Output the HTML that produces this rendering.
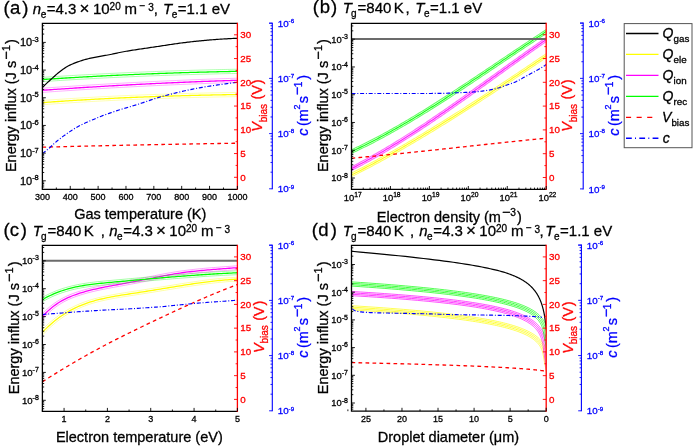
<!DOCTYPE html>
<html><head><meta charset="utf-8"><style>
html,body{margin:0;padding:0;background:#fff;}
svg{display:block;font-family:"Liberation Sans", sans-serif;will-change:transform;}
text{stroke-width:0.3px;}
</style></head><body>
<svg width="700" height="446" viewBox="0 0 700 446">
<rect width="700" height="446" fill="#fff"/>
<defs><clipPath id="cpa"><rect x="42.4" y="23.3" width="195" height="166"/></clipPath><clipPath id="cpc"><rect x="42.4" y="245.4" width="195" height="165.9"/></clipPath><clipPath id="cpb"><rect x="351.5" y="23.3" width="194.7" height="166.1"/></clipPath><clipPath id="cpd"><rect x="351.5" y="245.4" width="194.7" height="165.8"/></clipPath></defs>
<g clip-path="url(#cpa)" fill="none" stroke-linejoin="round">
<path d="M38.4 102.92L42.4 102.62L44.37 102.48L46.33 102.33L48.3 102.19L50.26 102.05L52.23 101.91L54.19 101.77L56.16 101.63L58.13 101.49L60.09 101.36L62.06 101.23L64.02 101.1L65.99 100.97L67.95 100.84L69.92 100.71L71.88 100.59L73.85 100.46L75.82 100.34L77.78 100.22L79.75 100.1L81.71 99.99L83.68 99.87L85.64 99.76L87.61 99.64L89.58 99.53L91.54 99.42L93.51 99.31L95.47 99.2L97.44 99.1L99.4 98.99L101.37 98.89L103.34 98.79L105.3 98.69L107.27 98.59L109.23 98.49L111.2 98.4L113.16 98.3L115.13 98.21L117.09 98.11L119.06 98.02L121.03 97.93L122.99 97.84L124.96 97.76L126.92 97.67L128.89 97.59L130.85 97.5L132.82 97.42L134.79 97.34L136.75 97.26L138.72 97.18L140.68 97.1L142.65 97.03L144.61 96.95L146.58 96.88L148.55 96.8L150.51 96.73L152.48 96.66L154.44 96.59L156.41 96.52L158.37 96.45L160.34 96.39L162.31 96.32L164.27 96.26L166.24 96.19L168.2 96.13L170.17 96.07L172.13 96.01L174.1 95.95L176.06 95.89L178.03 95.84L180 95.78L181.96 95.72L183.93 95.67L185.89 95.62L187.86 95.56L189.82 95.51L191.79 95.46L193.76 95.41L195.72 95.36L197.69 95.31L199.65 95.27L201.62 95.22L203.58 95.18L205.55 95.13L207.52 95.09L209.48 95.04L211.45 95L213.41 94.96L215.38 94.92L217.34 94.88L219.31 94.84L221.27 94.8L223.24 94.77L225.21 94.73L227.17 94.69L229.14 94.66L231.1 94.62L233.07 94.59L235.03 94.56L237 94.52L241 94.46" stroke="#ffff00" stroke-width="1.3" stroke-opacity="1.0"/>
<path d="M38.24 100.83L42.24 100.53L44.21 100.38L46.18 100.24L48.14 100.09L50.11 99.95L52.08 99.81L54.05 99.67L56.01 99.53L57.98 99.4L59.95 99.26L61.92 99.13L63.88 99L65.85 98.87L67.82 98.74L69.79 98.62L71.75 98.49L73.72 98.37L75.69 98.25L77.65 98.13L79.62 98.01L81.59 97.89L83.56 97.77L85.52 97.66L87.49 97.55L89.46 97.43L91.42 97.32L93.39 97.22L95.36 97.11L97.33 97L99.29 96.9L101.26 96.79L103.23 96.69L105.19 96.59L107.16 96.49L109.13 96.39L111.1 96.3L113.06 96.2L115.03 96.11L117 96.02L118.96 95.93L120.93 95.84L122.9 95.75L124.86 95.66L126.83 95.57L128.8 95.49L130.77 95.4L132.73 95.32L134.7 95.24L136.67 95.16L138.63 95.08L140.6 95L142.57 94.93L144.53 94.85L146.5 94.78L148.47 94.7L150.43 94.63L152.4 94.56L154.37 94.49L156.34 94.42L158.3 94.35L160.27 94.29L162.24 94.22L164.2 94.16L166.17 94.1L168.14 94.03L170.1 93.97L172.07 93.91L174.04 93.85L176 93.79L177.97 93.74L179.94 93.68L181.9 93.62L183.87 93.57L185.84 93.52L187.8 93.46L189.77 93.41L191.74 93.36L193.7 93.31L195.67 93.26L197.64 93.21L199.6 93.17L201.57 93.12L203.54 93.08L205.5 93.03L207.47 92.99L209.44 92.94L211.4 92.9L213.37 92.86L215.33 92.82L217.3 92.78L219.27 92.74L221.23 92.7L223.2 92.67L225.17 92.63L227.13 92.59L229.1 92.56L231.07 92.52L233.03 92.49L235 92.46L236.97 92.43L240.97 92.36" stroke="#ffff00" stroke-width="0.9" stroke-opacity="0.35"/>
<path d="M38.56 105.02L42.56 104.72L44.52 104.57L46.49 104.43L48.45 104.28L50.41 104.14L52.38 104L54.34 103.86L56.31 103.72L58.27 103.59L60.23 103.45L62.2 103.32L64.16 103.19L66.13 103.06L68.09 102.93L70.05 102.81L72.02 102.68L73.98 102.56L75.95 102.44L77.91 102.32L79.87 102.2L81.84 102.08L83.8 101.97L85.77 101.85L87.73 101.74L89.69 101.63L91.66 101.52L93.62 101.41L95.59 101.3L97.55 101.2L99.51 101.09L101.48 100.99L103.44 100.89L105.41 100.79L107.37 100.69L109.34 100.59L111.3 100.49L113.26 100.4L115.23 100.3L117.19 100.21L119.16 100.12L121.12 100.03L123.09 99.94L125.05 99.86L127.01 99.77L128.98 99.68L130.94 99.6L132.91 99.52L134.87 99.44L136.84 99.36L138.8 99.28L140.77 99.2L142.73 99.12L144.69 99.05L146.66 98.97L148.62 98.9L150.59 98.83L152.55 98.76L154.52 98.69L156.48 98.62L158.45 98.55L160.41 98.49L162.37 98.42L164.34 98.36L166.3 98.29L168.27 98.23L170.23 98.17L172.2 98.11L174.16 98.05L176.13 97.99L178.09 97.93L180.06 97.88L182.02 97.82L183.98 97.77L185.95 97.71L187.91 97.66L189.88 97.61L191.84 97.56L193.81 97.51L195.77 97.46L197.74 97.41L199.7 97.37L201.67 97.32L203.63 97.27L205.6 97.23L207.56 97.19L209.53 97.14L211.49 97.1L213.46 97.06L215.42 97.02L217.39 96.98L219.35 96.94L221.32 96.9L223.28 96.87L225.24 96.83L227.21 96.79L229.17 96.76L231.14 96.72L233.1 96.69L235.07 96.66L237.03 96.62L241.03 96.56" stroke="#ffff00" stroke-width="0.9" stroke-opacity="0.35"/>
<path d="M38.4 90.59L42.4 90.3L44.37 90.16L46.34 90.02L48.31 89.88L50.28 89.74L52.25 89.61L54.22 89.47L56.19 89.33L58.16 89.2L60.13 89.07L62.1 88.93L64.07 88.8L66.04 88.67L68.01 88.54L69.98 88.41L71.95 88.28L73.92 88.15L75.88 88.02L77.85 87.89L79.82 87.77L81.79 87.64L83.76 87.52L85.73 87.39L87.7 87.27L89.67 87.15L91.64 87.03L93.61 86.91L95.58 86.79L97.55 86.67L99.52 86.55L101.49 86.43L103.46 86.32L105.43 86.2L107.4 86.09L109.37 85.97L111.34 85.86L113.31 85.75L115.28 85.63L117.25 85.52L119.22 85.41L121.19 85.3L123.16 85.19L125.13 85.09L127.1 84.98L129.07 84.87L131.04 84.77L133.01 84.66L134.98 84.56L136.95 84.46L138.92 84.36L140.88 84.25L142.85 84.15L144.82 84.05L146.79 83.96L148.76 83.86L150.73 83.76L152.7 83.66L154.67 83.57L156.64 83.47L158.61 83.38L160.58 83.29L162.55 83.19L164.52 83.1L166.49 83.01L168.46 82.92L170.43 82.83L172.4 82.75L174.37 82.66L176.34 82.57L178.31 82.49L180.28 82.4L182.25 82.32L184.22 82.23L186.19 82.15L188.16 82.07L190.13 81.99L192.1 81.91L194.07 81.83L196.04 81.75L198.01 81.67L199.98 81.6L201.95 81.52L203.92 81.45L205.88 81.37L207.85 81.3L209.82 81.23L211.79 81.16L213.76 81.09L215.73 81.02L217.7 80.95L219.67 80.88L221.64 80.81L223.61 80.74L225.58 80.68L227.55 80.61L229.52 80.55L231.49 80.49L233.46 80.42L235.43 80.36L237.4 80.3L241.4 80.18" stroke="#ff00ff" stroke-width="1.3" stroke-opacity="1.0"/>
<path d="M38.25 88.49L42.25 88.21L44.22 88.07L46.19 87.93L48.16 87.79L50.13 87.65L52.1 87.51L54.07 87.38L56.04 87.24L58.01 87.1L59.99 86.97L61.96 86.84L63.93 86.7L65.9 86.57L67.87 86.44L69.84 86.31L71.81 86.18L73.78 86.05L75.75 85.93L77.72 85.8L79.69 85.67L81.66 85.55L83.63 85.42L85.6 85.3L87.57 85.18L89.54 85.05L91.51 84.93L93.48 84.81L95.45 84.69L97.43 84.57L99.4 84.45L101.37 84.34L103.34 84.22L105.31 84.1L107.28 83.99L109.25 83.88L111.22 83.76L113.19 83.65L115.16 83.54L117.13 83.43L119.1 83.32L121.07 83.21L123.04 83.1L125.01 82.99L126.98 82.88L128.95 82.78L130.92 82.67L132.9 82.57L134.87 82.46L136.84 82.36L138.81 82.26L140.78 82.16L142.75 82.06L144.72 81.96L146.69 81.86L148.66 81.76L150.63 81.66L152.6 81.57L154.57 81.47L156.54 81.38L158.51 81.28L160.48 81.19L162.45 81.1L164.42 81.01L166.39 80.91L168.37 80.83L170.34 80.74L172.31 80.65L174.28 80.56L176.25 80.47L178.22 80.39L180.19 80.3L182.16 80.22L184.13 80.14L186.1 80.05L188.07 79.97L190.04 79.89L192.01 79.81L193.98 79.73L195.95 79.65L197.92 79.58L199.89 79.5L201.87 79.42L203.84 79.35L205.81 79.27L207.78 79.2L209.75 79.13L211.72 79.06L213.69 78.99L215.66 78.92L217.63 78.85L219.6 78.78L221.57 78.71L223.54 78.65L225.51 78.58L227.48 78.51L229.45 78.45L231.42 78.39L233.39 78.32L235.37 78.26L237.34 78.2L241.34 78.08" stroke="#ff00ff" stroke-width="0.9" stroke-opacity="0.35"/>
<path d="M38.55 92.68L42.55 92.4L44.52 92.26L46.49 92.12L48.46 91.98L50.43 91.84L52.39 91.7L54.36 91.57L56.33 91.43L58.3 91.29L60.27 91.16L62.24 91.03L64.21 90.9L66.18 90.76L68.14 90.63L70.11 90.5L72.08 90.37L74.05 90.24L76.02 90.12L77.99 89.99L79.96 89.86L81.93 89.74L83.9 89.61L85.86 89.49L87.83 89.37L89.8 89.25L91.77 89.12L93.74 89L95.71 88.88L97.68 88.76L99.65 88.65L101.62 88.53L103.58 88.41L105.55 88.3L107.52 88.18L109.49 88.07L111.46 87.95L113.43 87.84L115.4 87.73L117.37 87.62L119.33 87.51L121.3 87.4L123.27 87.29L125.24 87.18L127.21 87.08L129.18 86.97L131.15 86.87L133.12 86.76L135.09 86.66L137.05 86.56L139.02 86.45L140.99 86.35L142.96 86.25L144.93 86.15L146.9 86.05L148.87 85.96L150.84 85.86L152.81 85.76L154.77 85.67L156.74 85.57L158.71 85.48L160.68 85.38L162.65 85.29L164.62 85.2L166.59 85.11L168.56 85.02L170.52 84.93L172.49 84.84L174.46 84.76L176.43 84.67L178.4 84.58L180.37 84.5L182.34 84.42L184.31 84.33L186.28 84.25L188.24 84.17L190.21 84.09L192.18 84.01L194.15 83.93L196.12 83.85L198.09 83.77L200.06 83.7L202.03 83.62L203.99 83.55L205.96 83.47L207.93 83.4L209.9 83.33L211.87 83.25L213.84 83.18L215.81 83.11L217.78 83.05L219.75 82.98L221.71 82.91L223.68 82.84L225.65 82.78L227.62 82.71L229.59 82.65L231.56 82.58L233.53 82.52L235.5 82.46L237.46 82.4L241.46 82.28" stroke="#ff00ff" stroke-width="0.9" stroke-opacity="0.35"/>
<path d="M38.4 79.79L42.4 79.52L44.37 79.39L46.34 79.25L48.31 79.12L50.28 78.99L52.25 78.87L54.22 78.74L56.19 78.61L58.16 78.49L60.13 78.36L62.1 78.24L64.07 78.12L66.04 78L68.01 77.88L69.98 77.76L71.95 77.64L73.92 77.53L75.88 77.41L77.85 77.3L79.82 77.18L81.79 77.07L83.76 76.96L85.73 76.85L87.7 76.74L89.67 76.63L91.64 76.53L93.61 76.42L95.58 76.32L97.55 76.21L99.52 76.11L101.49 76.01L103.46 75.91L105.43 75.81L107.4 75.71L109.37 75.62L111.34 75.52L113.31 75.42L115.28 75.33L117.25 75.24L119.22 75.14L121.19 75.05L123.16 74.96L125.13 74.87L127.1 74.79L129.07 74.7L131.04 74.61L133.01 74.53L134.98 74.44L136.95 74.36L138.92 74.28L140.88 74.2L142.85 74.12L144.82 74.04L146.79 73.96L148.76 73.88L150.73 73.81L152.7 73.73L154.67 73.66L156.64 73.58L158.61 73.51L160.58 73.44L162.55 73.37L164.52 73.3L166.49 73.23L168.46 73.16L170.43 73.09L172.4 73.03L174.37 72.96L176.34 72.9L178.31 72.83L180.28 72.77L182.25 72.71L184.22 72.65L186.19 72.59L188.16 72.53L190.13 72.47L192.1 72.41L194.07 72.36L196.04 72.3L198.01 72.25L199.98 72.19L201.95 72.14L203.92 72.09L205.88 72.04L207.85 71.99L209.82 71.94L211.79 71.89L213.76 71.84L215.73 71.79L217.7 71.75L219.67 71.7L221.64 71.66L223.61 71.61L225.58 71.57L227.55 71.53L229.52 71.49L231.49 71.45L233.46 71.41L235.43 71.37L237.4 71.33L241.4 71.25" stroke="#00ff00" stroke-width="1.3" stroke-opacity="1.0"/>
<path d="M38.26 77.69L42.26 77.42L44.23 77.29L46.2 77.16L48.17 77.03L50.14 76.9L52.11 76.77L54.08 76.64L56.05 76.52L58.03 76.39L60 76.27L61.97 76.14L63.94 76.02L65.91 75.9L67.88 75.78L69.85 75.66L71.82 75.55L73.79 75.43L75.76 75.31L77.73 75.2L79.7 75.09L81.68 74.97L83.65 74.86L85.62 74.75L87.59 74.64L89.56 74.54L91.53 74.43L93.5 74.32L95.47 74.22L97.44 74.12L99.41 74.01L101.38 73.91L103.35 73.81L105.33 73.71L107.3 73.62L109.27 73.52L111.24 73.42L113.21 73.33L115.18 73.23L117.15 73.14L119.12 73.05L121.09 72.96L123.06 72.87L125.03 72.78L127 72.69L128.97 72.6L130.95 72.51L132.92 72.43L134.89 72.35L136.86 72.26L138.83 72.18L140.8 72.1L142.77 72.02L144.74 71.94L146.71 71.86L148.68 71.78L150.65 71.71L152.62 71.63L154.59 71.56L156.56 71.48L158.54 71.41L160.51 71.34L162.48 71.27L164.45 71.2L166.42 71.13L168.39 71.06L170.36 70.99L172.33 70.93L174.3 70.86L176.27 70.8L178.24 70.73L180.21 70.67L182.18 70.61L184.15 70.55L186.12 70.49L188.1 70.43L190.07 70.37L192.04 70.31L194.01 70.26L195.98 70.2L197.95 70.15L199.92 70.09L201.89 70.04L203.86 69.99L205.83 69.94L207.8 69.89L209.77 69.84L211.74 69.79L213.71 69.74L215.68 69.69L217.65 69.65L219.62 69.6L221.6 69.56L223.57 69.51L225.54 69.47L227.51 69.43L229.48 69.39L231.45 69.35L233.42 69.31L235.39 69.27L237.36 69.23L241.36 69.15" stroke="#00ff00" stroke-width="0.9" stroke-opacity="0.35"/>
<path d="M38.54 81.88L42.54 81.61L44.51 81.48L46.48 81.35L48.45 81.22L50.42 81.09L52.38 80.96L54.35 80.83L56.32 80.71L58.29 80.58L60.26 80.46L62.23 80.34L64.2 80.21L66.16 80.09L68.13 79.97L70.1 79.86L72.07 79.74L74.04 79.62L76.01 79.51L77.98 79.39L79.94 79.28L81.91 79.17L83.88 79.06L85.85 78.95L87.82 78.84L89.79 78.73L91.76 78.62L93.72 78.52L95.69 78.41L97.66 78.31L99.63 78.21L101.6 78.11L103.57 78.01L105.54 77.91L107.5 77.81L109.47 77.71L111.44 77.62L113.41 77.52L115.38 77.43L117.35 77.33L119.32 77.24L121.28 77.15L123.25 77.06L125.22 76.97L127.19 76.88L129.16 76.8L131.13 76.71L133.1 76.63L135.06 76.54L137.03 76.46L139 76.38L140.97 76.3L142.94 76.22L144.91 76.14L146.88 76.06L148.85 75.98L150.81 75.9L152.78 75.83L154.75 75.75L156.72 75.68L158.69 75.61L160.66 75.54L162.63 75.47L164.6 75.4L166.56 75.33L168.53 75.26L170.5 75.19L172.47 75.13L174.44 75.06L176.41 75L178.38 74.93L180.34 74.87L182.31 74.81L184.28 74.75L186.25 74.69L188.22 74.63L190.19 74.57L192.16 74.51L194.13 74.46L196.1 74.4L198.06 74.35L200.03 74.29L202 74.24L203.97 74.19L205.94 74.14L207.91 74.09L209.88 74.04L211.85 73.99L213.81 73.94L215.78 73.89L217.75 73.85L219.72 73.8L221.69 73.76L223.66 73.71L225.63 73.67L227.6 73.63L229.56 73.59L231.53 73.55L233.5 73.51L235.47 73.47L237.44 73.43L241.44 73.35" stroke="#00ff00" stroke-width="0.9" stroke-opacity="0.35"/>
<path d="M38.4 91.69L42.4 87.6L43.71 86.26L45.02 84.95L46.33 83.68L47.63 82.44L48.94 81.24L50.25 80.05L51.56 78.87L52.87 77.68L54.18 76.49L55.49 75.3L56.8 74.14L58.1 73.02L59.41 71.97L60.72 70.94L62.03 69.95L63.34 69.01L64.65 68.13L65.96 67.32L67.27 66.55L68.57 65.82L69.88 65.14L71.19 64.52L72.5 63.94L73.81 63.41L75.12 62.9L76.43 62.41L77.74 61.93L79.04 61.46L80.35 61.01L81.66 60.58L82.97 60.17L84.28 59.79L85.59 59.42L86.9 59.08L88.21 58.75L89.51 58.45L90.82 58.18L92.13 57.93L93.44 57.69L94.75 57.45L96.06 57.19L97.37 56.91L98.68 56.62L99.98 56.34L101.29 56.08L102.6 55.84L103.91 55.62L105.22 55.42L106.53 55.22L107.84 55L109.14 54.77L110.45 54.52L111.76 54.24L113.07 53.96L114.38 53.66L115.69 53.36L117 53.06L118.31 52.77L119.61 52.5L120.92 52.24L122.23 51.99L123.54 51.74L124.85 51.5L126.16 51.27L127.47 51.04L128.78 50.82L130.08 50.6L131.39 50.39L132.7 50.19L134.01 49.99L135.32 49.8L136.63 49.6L137.94 49.41L139.25 49.21L140.55 49.02L141.86 48.82L143.17 48.63L144.48 48.43L145.79 48.24L147.1 48.05L148.41 47.85L149.72 47.66L151.02 47.46L152.33 47.27L153.64 47.08L154.95 46.88L156.26 46.69L157.57 46.49L158.88 46.3L160.19 46.1L161.49 45.9L162.8 45.7L164.11 45.5L165.42 45.3L166.73 45.09L168.04 44.89L169.35 44.69L170.66 44.49L171.96 44.3L173.27 44.1L174.58 43.91L175.89 43.73L177.2 43.55L178.51 43.37L179.82 43.2L181.12 43.03L182.43 42.86L183.74 42.69L185.05 42.53L186.36 42.36L187.67 42.2L188.98 42.05L190.29 41.89L191.59 41.74L192.9 41.59L194.21 41.45L195.52 41.31L196.83 41.17L198.14 41.04L199.45 40.91L200.76 40.78L202.06 40.65L203.37 40.53L204.68 40.41L205.99 40.29L207.3 40.17L208.61 40.06L209.92 39.95L211.23 39.84L212.53 39.74L213.84 39.64L215.15 39.54L216.46 39.44L217.77 39.35L219.08 39.27L220.39 39.19L221.7 39.1L223 39.02L224.31 38.94L225.62 38.87L226.93 38.79L228.24 38.72L229.55 38.65L230.86 38.59L232.17 38.52L233.47 38.46L234.78 38.41L236.09 38.35L237.4 38.3L241.4 38.14" stroke="#000" stroke-width="1.2"/>
<path d="M42.4 147.2L44.37 147.15L46.34 147.1L48.31 147.05L50.28 146.99L52.25 146.94L54.22 146.89L56.19 146.84L58.16 146.79L60.13 146.74L62.1 146.69L64.07 146.64L66.04 146.59L68.01 146.54L69.98 146.49L71.95 146.44L73.92 146.4L75.88 146.35L77.85 146.3L79.82 146.25L81.79 146.2L83.76 146.16L85.73 146.11L87.7 146.06L89.67 146.02L91.64 145.97L93.61 145.93L95.58 145.88L97.55 145.84L99.52 145.79L101.49 145.75L103.46 145.7L105.43 145.66L107.4 145.62L109.37 145.57L111.34 145.53L113.31 145.49L115.28 145.44L117.25 145.4L119.22 145.36L121.19 145.32L123.16 145.27L125.13 145.23L127.1 145.19L129.07 145.15L131.04 145.11L133.01 145.07L134.98 145.03L136.95 144.99L138.92 144.95L140.88 144.91L142.85 144.87L144.82 144.83L146.79 144.79L148.76 144.75L150.73 144.71L152.7 144.67L154.67 144.64L156.64 144.6L158.61 144.56L160.58 144.52L162.55 144.48L164.52 144.45L166.49 144.41L168.46 144.37L170.43 144.34L172.4 144.3L174.37 144.26L176.34 144.23L178.31 144.19L180.28 144.16L182.25 144.12L184.22 144.09L186.19 144.05L188.16 144.02L190.13 143.98L192.1 143.95L194.07 143.91L196.04 143.88L198.01 143.85L199.98 143.81L201.95 143.78L203.92 143.75L205.88 143.71L207.85 143.68L209.82 143.65L211.79 143.61L213.76 143.58L215.73 143.55L217.7 143.52L219.67 143.48L221.64 143.45L223.61 143.42L225.58 143.39L227.55 143.36L229.52 143.33L231.49 143.3L233.46 143.27L235.43 143.23L237.4 143.2" stroke="#f00" stroke-width="1.3" stroke-dasharray="3.7 3.3"/>
<path d="M42.4 153.6L43.71 152.6L45.02 151.57L46.33 150.51L47.63 149.43L48.94 148.32L50.25 147.19L51.56 146L52.87 144.76L54.18 143.53L55.49 142.34L56.8 141.23L58.1 140.16L59.41 139.12L60.72 138.11L62.03 137.13L63.34 136.16L64.65 135.21L65.96 134.29L67.27 133.38L68.57 132.49L69.88 131.61L71.19 130.74L72.5 129.87L73.81 129.03L75.12 128.21L76.43 127.43L77.74 126.69L79.04 125.99L80.35 125.31L81.66 124.66L82.97 124.03L84.28 123.41L85.59 122.81L86.9 122.22L88.21 121.65L89.51 121.09L90.82 120.55L92.13 120L93.44 119.46L94.75 118.91L96.06 118.35L97.37 117.79L98.68 117.23L99.98 116.68L101.29 116.16L102.6 115.66L103.91 115.18L105.22 114.71L106.53 114.25L107.84 113.8L109.14 113.35L110.45 112.9L111.76 112.44L113.07 111.99L114.38 111.55L115.69 111.1L117 110.67L118.31 110.24L119.61 109.81L120.92 109.4L122.23 109L123.54 108.6L124.85 108.22L126.16 107.84L127.47 107.46L128.78 107.07L130.08 106.69L131.39 106.29L132.7 105.89L134.01 105.5L135.32 105.1L136.63 104.69L137.94 104.29L139.25 103.88L140.55 103.46L141.86 103.03L143.17 102.59L144.48 102.15L145.79 101.7L147.1 101.25L148.41 100.8L149.72 100.35L151.02 99.9L152.33 99.46L153.64 99.03L154.95 98.6L156.26 98.19L157.57 97.79L158.88 97.4L160.19 97.02L161.49 96.65L162.8 96.28L164.11 95.92L165.42 95.56L166.73 95.21L168.04 94.86L169.35 94.52L170.66 94.18L171.96 93.85L173.27 93.52L174.58 93.19L175.89 92.88L177.2 92.56L178.51 92.25L179.82 91.94L181.12 91.64L182.43 91.34L183.74 91.04L185.05 90.75L186.36 90.46L187.67 90.17L188.98 89.89L190.29 89.61L191.59 89.34L192.9 89.08L194.21 88.81L195.52 88.56L196.83 88.31L198.14 88.07L199.45 87.83L200.76 87.6L202.06 87.37L203.37 87.15L204.68 86.93L205.99 86.71L207.3 86.5L208.61 86.3L209.92 86.09L211.23 85.89L212.53 85.69L213.84 85.5L215.15 85.3L216.46 85.11L217.77 84.92L219.08 84.73L220.39 84.54L221.7 84.36L223 84.17L224.31 83.99L225.62 83.81L226.93 83.64L228.24 83.46L229.55 83.29L230.86 83.12L232.17 82.95L233.47 82.78L234.78 82.62L236.09 82.46L237.4 82.3" stroke="#00f" stroke-width="1.15" stroke-dasharray="4 1.8 1 1.8"/>
</g>
<g clip-path="url(#cpb)" fill="none" stroke-linejoin="round">
<path d="M347.5 176.96L351.5 174.94L353.47 173.95L355.43 172.95L357.4 171.94L359.37 170.93L361.33 169.91L363.3 168.89L365.27 167.86L367.23 166.83L369.2 165.79L371.17 164.74L373.13 163.69L375.1 162.63L377.07 161.57L379.03 160.5L381 159.42L382.97 158.34L384.93 157.26L386.9 156.17L388.87 155.07L390.83 153.97L392.8 152.87L394.77 151.76L396.73 150.64L398.7 149.52L400.67 148.4L402.63 147.27L404.6 146.14L406.57 145L408.53 143.85L410.5 142.71L412.47 141.55L414.43 140.4L416.4 139.23L418.37 138.07L420.33 136.9L422.3 135.72L424.27 134.55L426.23 133.36L428.2 132.18L430.17 130.99L432.13 129.79L434.1 128.59L436.07 127.39L438.03 126.19L440 124.98L441.97 123.76L443.93 122.55L445.9 121.33L447.87 120.1L449.83 118.87L451.8 117.64L453.77 116.41L455.73 115.17L457.7 113.93L459.67 112.69L461.63 111.44L463.6 110.19L465.57 108.94L467.53 107.68L469.5 106.42L471.47 105.16L473.43 103.9L475.4 102.63L477.37 101.36L479.33 100.09L481.3 98.81L483.27 97.54L485.23 96.26L487.2 94.98L489.17 93.69L491.13 92.4L493.1 91.11L495.07 89.82L497.03 88.53L499 87.24L500.97 85.94L502.93 84.64L504.9 83.34L506.87 82.03L508.83 80.73L510.8 79.42L512.77 78.11L514.73 76.81L516.7 75.49L518.67 74.18L520.63 72.87L522.6 71.55L524.57 70.23L526.53 68.92L528.5 67.6L530.47 66.28L532.43 64.95L534.4 63.63L536.37 62.31L538.33 60.98L540.3 59.66L542.27 58.33L544.23 57L546.2 55.68L550.2 52.97" stroke="#ffff00" stroke-width="1.2" stroke-opacity="0.9"/>
<path d="M346.78 175.54L350.78 173.51L352.74 172.52L354.71 171.52L356.67 170.52L358.63 169.51L360.6 168.49L362.56 167.47L364.52 166.44L366.49 165.41L368.45 164.37L370.41 163.33L372.38 162.28L374.34 161.22L376.3 160.16L378.27 159.09L380.23 158.02L382.2 156.94L384.16 155.86L386.12 154.77L388.09 153.68L390.05 152.58L392.01 151.48L393.98 150.37L395.94 149.25L397.91 148.13L399.87 147.01L401.84 145.88L403.8 144.75L405.76 143.61L407.73 142.47L409.69 141.32L411.66 140.17L413.62 139.02L415.59 137.86L417.55 136.69L419.51 135.52L421.48 134.35L423.44 133.17L425.41 131.99L427.37 130.81L429.34 129.62L431.3 128.43L433.27 127.23L435.23 126.03L437.2 124.82L439.16 123.61L441.13 122.4L443.09 121.19L445.06 119.97L447.02 118.74L448.99 117.52L450.95 116.29L452.92 115.06L454.88 113.82L456.85 112.58L458.81 111.34L460.78 110.09L462.74 108.84L464.71 107.59L466.67 106.33L468.64 105.08L470.6 103.82L472.57 102.55L474.53 101.29L476.5 100.02L478.46 98.75L480.43 97.47L482.39 96.2L484.36 94.92L486.33 93.64L488.29 92.35L490.26 91.07L492.22 89.78L494.19 88.49L496.15 87.19L498.12 85.9L500.09 84.6L502.05 83.3L504.02 82L505.98 80.7L507.95 79.4L509.91 78.09L511.88 76.78L513.85 75.47L515.81 74.16L517.78 72.85L519.74 71.54L521.71 70.22L523.68 68.9L525.64 67.59L527.61 66.27L529.57 64.95L531.54 63.63L533.51 62.3L535.47 60.98L537.44 59.66L539.41 58.33L541.37 57L543.34 55.68L545.3 54.35L549.3 51.65" stroke="#ffff00" stroke-width="1.1" stroke-opacity="0.6"/>
<path d="M348.22 178.39L352.22 176.37L354.19 175.38L356.16 174.37L358.13 173.37L360.1 172.35L362.07 171.33L364.04 170.31L366.01 169.28L367.98 168.24L369.95 167.2L371.92 166.15L373.89 165.1L375.86 164.04L377.83 162.97L379.8 161.9L381.77 160.83L383.74 159.75L385.71 158.66L387.68 157.57L389.65 156.47L391.62 155.37L393.59 154.26L395.55 153.15L397.52 152.04L399.49 150.91L401.46 149.79L403.43 148.66L405.4 147.52L407.37 146.38L409.34 145.24L411.31 144.09L413.28 142.93L415.25 141.77L417.21 140.61L419.18 139.44L421.15 138.27L423.12 137.1L425.09 135.92L427.06 134.73L429.03 133.55L431 132.36L432.96 131.16L434.93 129.96L436.9 128.76L438.87 127.55L440.84 126.34L442.81 125.12L444.78 123.91L446.74 122.69L448.71 121.46L450.68 120.23L452.65 119L454.62 117.76L456.59 116.53L458.55 115.28L460.52 114.04L462.49 112.79L464.46 111.54L466.43 110.29L468.4 109.03L470.36 107.77L472.33 106.51L474.3 105.24L476.27 103.98L478.24 102.71L480.2 101.43L482.17 100.16L484.14 98.88L486.11 97.6L488.07 96.32L490.04 95.03L492.01 93.74L493.98 92.45L495.95 91.16L497.91 89.87L499.88 88.57L501.85 87.27L503.82 85.97L505.78 84.67L507.75 83.37L509.72 82.06L511.69 80.76L513.65 79.45L515.62 78.14L517.59 76.82L519.56 75.51L521.52 74.2L523.49 72.88L525.46 71.56L527.42 70.24L529.39 68.92L531.36 67.6L533.33 66.28L535.29 64.96L537.26 63.63L539.23 62.31L541.19 60.98L543.16 59.66L545.13 58.33L547.1 57L551.1 54.3" stroke="#ffff00" stroke-width="1.1" stroke-opacity="0.6"/>
<path d="M347.5 170.63L351.5 168.6L353.47 167.61L355.43 166.6L357.4 165.59L359.37 164.56L361.33 163.52L363.3 162.47L365.27 161.41L367.23 160.34L369.2 159.26L371.17 158.17L373.13 157.07L375.1 155.96L377.07 154.84L379.03 153.71L381 152.57L382.97 151.42L384.93 150.27L386.9 149.1L388.87 147.93L390.83 146.74L392.8 145.55L394.77 144.35L396.73 143.15L398.7 141.93L400.67 140.71L402.63 139.48L404.6 138.24L406.57 137L408.53 135.74L410.5 134.48L412.47 133.22L414.43 131.95L416.4 130.67L418.37 129.38L420.33 128.09L422.3 126.79L424.27 125.49L426.23 124.18L428.2 122.86L430.17 121.54L432.13 120.22L434.1 118.89L436.07 117.55L438.03 116.21L440 114.87L441.97 113.52L443.93 112.16L445.9 110.8L447.87 109.44L449.83 108.08L451.8 106.71L453.77 105.33L455.73 103.96L457.7 102.58L459.67 101.19L461.63 99.81L463.6 98.42L465.57 97.02L467.53 95.63L469.5 94.23L471.47 92.83L473.43 91.43L475.4 90.03L477.37 88.62L479.33 87.22L481.3 85.81L483.27 84.4L485.23 82.99L487.2 81.58L489.17 80.17L491.13 78.75L493.1 77.34L495.07 75.93L497.03 74.51L499 73.1L500.97 71.68L502.93 70.27L504.9 68.86L506.87 67.44L508.83 66.03L510.8 64.62L512.77 63.21L514.73 61.8L516.7 60.39L518.67 58.99L520.63 57.58L522.6 56.18L524.57 54.78L526.53 53.38L528.5 51.98L530.47 50.59L532.43 49.2L534.4 47.81L536.37 46.42L538.33 45.04L540.3 43.66L542.27 42.28L544.23 40.9L546.2 39.53L550.2 36.75" stroke="#ff00ff" stroke-width="1.2" stroke-opacity="0.9"/>
<path d="M346.78 169.2L350.78 167.18L352.74 166.18L354.7 165.18L356.66 164.17L358.62 163.14L360.58 162.11L362.54 161.06L364.5 160L366.47 158.94L368.43 157.86L370.39 156.77L372.35 155.67L374.31 154.57L376.27 153.45L378.23 152.32L380.2 151.19L382.16 150.04L384.12 148.89L386.08 147.72L388.04 146.55L390.01 145.37L391.97 144.19L393.93 142.99L395.89 141.78L397.86 140.57L399.82 139.35L401.78 138.12L403.75 136.89L405.71 135.65L407.67 134.4L409.64 133.14L411.6 131.87L413.56 130.6L415.53 129.33L417.49 128.04L419.45 126.75L421.42 125.46L423.38 124.16L425.35 122.85L427.31 121.54L429.27 120.22L431.24 118.89L433.2 117.56L435.17 116.23L437.13 114.89L439.1 113.55L441.06 112.2L443.03 110.85L444.99 109.49L446.95 108.13L448.92 106.76L450.88 105.39L452.85 104.02L454.81 102.65L456.78 101.27L458.75 99.88L460.71 98.5L462.68 97.11L464.64 95.72L466.61 94.32L468.57 92.93L470.54 91.53L472.5 90.13L474.47 88.73L476.44 87.32L478.4 85.92L480.37 84.51L482.33 83.1L484.3 81.69L486.27 80.28L488.23 78.87L490.2 77.45L492.17 76.04L494.13 74.63L496.1 73.21L498.07 71.8L500.03 70.39L502 68.97L503.97 67.56L505.93 66.15L507.9 64.73L509.87 63.32L511.83 61.91L513.8 60.5L515.77 59.09L517.74 57.69L519.7 56.28L521.67 54.88L523.64 53.47L525.61 52.07L527.57 50.68L529.54 49.28L531.51 47.89L533.48 46.5L535.45 45.11L537.41 43.73L539.38 42.35L541.35 40.97L543.32 39.59L545.29 38.22L549.29 35.44" stroke="#ff00ff" stroke-width="1.1" stroke-opacity="0.6"/>
<path d="M348.22 172.06L352.22 170.03L354.19 169.04L356.17 168.03L358.14 167.01L360.11 165.97L362.08 164.93L364.06 163.88L366.03 162.82L368 161.74L369.97 160.66L371.95 159.57L373.92 158.46L375.89 157.35L377.86 156.23L379.83 155.09L381.8 153.95L383.78 152.8L385.75 151.64L387.72 150.48L389.69 149.3L391.66 148.11L393.63 146.92L395.6 145.72L397.57 144.51L399.54 143.29L401.51 142.07L403.48 140.83L405.45 139.59L407.42 138.35L409.39 137.09L411.36 135.83L413.33 134.56L415.3 133.29L417.27 132.01L419.24 130.72L421.21 129.43L423.18 128.13L425.15 126.82L427.12 125.51L429.09 124.19L431.06 122.87L433.03 121.54L435 120.21L436.97 118.88L438.94 117.53L440.9 116.19L442.87 114.84L444.84 113.48L446.81 112.12L448.78 110.76L450.75 109.39L452.72 108.02L454.68 106.64L456.65 105.27L458.62 103.88L460.59 102.5L462.56 101.11L464.52 99.72L466.49 98.33L468.46 96.93L470.43 95.54L472.39 94.14L474.36 92.74L476.33 91.33L478.3 89.93L480.26 88.52L482.23 87.11L484.2 85.7L486.17 84.29L488.13 82.88L490.1 81.47L492.07 80.05L494.03 78.64L496 77.23L497.97 75.81L499.93 74.4L501.9 72.98L503.87 71.57L505.83 70.16L507.8 68.74L509.77 67.33L511.73 65.92L513.7 64.51L515.66 63.1L517.63 61.69L519.6 60.29L521.56 58.88L523.53 57.48L525.49 56.08L527.46 54.68L529.43 53.29L531.39 51.89L533.36 50.5L535.32 49.11L537.29 47.73L539.25 46.34L541.22 44.97L543.18 43.59L545.15 42.22L547.11 40.85L551.11 38.06" stroke="#ff00ff" stroke-width="1.1" stroke-opacity="0.6"/>
<path d="M347.5 153.41L351.5 151.56L353.47 150.65L355.43 149.73L357.4 148.79L359.37 147.85L361.33 146.9L363.3 145.94L365.27 144.96L367.23 143.98L369.2 142.99L371.17 141.98L373.13 140.97L375.1 139.95L377.07 138.92L379.03 137.88L381 136.83L382.97 135.77L384.93 134.7L386.9 133.63L388.87 132.55L390.83 131.45L392.8 130.35L394.77 129.25L396.73 128.13L398.7 127.01L400.67 125.88L402.63 124.74L404.6 123.59L406.57 122.44L408.53 121.28L410.5 120.11L412.47 118.94L414.43 117.76L416.4 116.57L418.37 115.38L420.33 114.18L422.3 112.98L424.27 111.77L426.23 110.55L428.2 109.33L430.17 108.1L432.13 106.87L434.1 105.64L436.07 104.39L438.03 103.15L440 101.9L441.97 100.64L443.93 99.38L445.9 98.12L447.87 96.85L449.83 95.58L451.8 94.3L453.77 93.02L455.73 91.74L457.7 90.45L459.67 89.17L461.63 87.87L463.6 86.58L465.57 85.28L467.53 83.98L469.5 82.68L471.47 81.37L473.43 80.07L475.4 78.76L477.37 77.45L479.33 76.14L481.3 74.82L483.27 73.51L485.23 72.19L487.2 70.87L489.17 69.56L491.13 68.24L493.1 66.92L495.07 65.6L497.03 64.27L499 62.95L500.97 61.63L502.93 60.31L504.9 58.99L506.87 57.67L508.83 56.35L510.8 55.03L512.77 53.71L514.73 52.4L516.7 51.08L518.67 49.77L520.63 48.45L522.6 47.14L524.57 45.83L526.53 44.52L528.5 43.22L530.47 41.91L532.43 40.61L534.4 39.31L536.37 38.01L538.33 36.72L540.3 35.43L542.27 34.14L544.23 32.85L546.2 31.57L550.2 28.96" stroke="#00ff00" stroke-width="1.2" stroke-opacity="0.9"/>
<path d="M346.83 151.96L350.83 150.1L352.79 149.2L354.75 148.28L356.71 147.35L358.67 146.41L360.63 145.46L362.59 144.5L364.55 143.53L366.52 142.55L368.48 141.56L370.44 140.56L372.4 139.55L374.36 138.53L376.32 137.5L378.28 136.47L380.24 135.42L382.21 134.36L384.17 133.3L386.13 132.23L388.09 131.15L390.05 130.06L392.02 128.96L393.98 127.85L395.94 126.74L397.9 125.62L399.87 124.49L401.83 123.35L403.79 122.21L405.76 121.06L407.72 119.9L409.68 118.74L411.65 117.57L413.61 116.39L415.57 115.2L417.54 114.01L419.5 112.82L421.46 111.61L423.43 110.41L425.39 109.19L427.35 107.97L429.32 106.75L431.28 105.52L433.25 104.28L435.21 103.04L437.18 101.8L439.14 100.55L441.1 99.29L443.07 98.03L445.03 96.77L447 95.51L448.96 94.23L450.93 92.96L452.89 91.68L454.86 90.4L456.82 89.12L458.79 87.83L460.75 86.54L462.72 85.24L464.68 83.95L466.65 82.65L468.62 81.35L470.58 80.04L472.55 78.74L474.51 77.43L476.48 76.12L478.44 74.81L480.41 73.49L482.38 72.18L484.34 70.86L486.31 69.54L488.28 68.23L490.24 66.91L492.21 65.59L494.17 64.27L496.14 62.95L498.11 61.63L500.07 60.3L502.04 58.98L504.01 57.66L505.97 56.34L507.94 55.02L509.91 53.7L511.88 52.39L513.84 51.07L515.81 49.75L517.78 48.44L519.75 47.12L521.71 45.81L523.68 44.5L525.65 43.19L527.62 41.88L529.58 40.58L531.55 39.27L533.52 37.97L535.49 36.68L537.45 35.38L539.42 34.09L541.39 32.8L543.36 31.51L545.33 30.23L549.33 27.62" stroke="#00ff00" stroke-width="1.1" stroke-opacity="0.6"/>
<path d="M348.17 154.86L352.17 153.01L354.14 152.1L356.12 151.17L358.09 150.24L360.06 149.29L362.03 148.34L364.01 147.37L365.98 146.4L367.95 145.41L369.92 144.41L371.9 143.41L373.87 142.39L375.84 141.37L377.81 140.33L379.78 139.29L381.76 138.24L383.73 137.18L385.7 136.11L387.67 135.03L389.64 133.95L391.61 132.85L393.58 131.75L395.55 130.64L397.52 129.52L399.5 128.39L401.47 127.26L403.44 126.12L405.41 124.97L407.38 123.82L409.35 122.66L411.32 121.49L413.29 120.31L415.26 119.13L417.23 117.94L419.2 116.75L421.17 115.55L423.14 114.34L425.11 113.13L427.08 111.91L429.05 110.69L431.01 109.46L432.98 108.23L434.95 106.99L436.92 105.75L438.89 104.5L440.86 103.25L442.83 101.99L444.8 100.73L446.77 99.46L448.73 98.19L450.7 96.92L452.67 95.64L454.64 94.36L456.61 93.08L458.58 91.79L460.54 90.5L462.51 89.21L464.48 87.92L466.45 86.62L468.42 85.32L470.38 84.01L472.35 82.71L474.32 81.4L476.29 80.09L478.25 78.78L480.22 77.47L482.19 76.15L484.16 74.84L486.12 73.52L488.09 72.2L490.06 70.88L492.02 69.56L493.99 68.24L495.96 66.92L497.93 65.6L499.89 64.28L501.86 62.96L503.83 61.64L505.79 60.32L507.76 59L509.72 57.68L511.69 56.36L513.66 55.04L515.62 53.73L517.59 52.41L519.56 51.1L521.52 49.78L523.49 48.47L525.45 47.16L527.42 45.85L529.38 44.55L531.35 43.24L533.32 41.94L535.28 40.64L537.25 39.35L539.21 38.06L541.18 36.76L543.14 35.48L545.11 34.19L547.07 32.91L551.07 30.3" stroke="#00ff00" stroke-width="1.1" stroke-opacity="0.6"/>
<path d="M347.5 38.9L351.5 38.9L546.2 38.9L550.2 38.9" stroke="#6b6b6b" stroke-width="2"/>
<path d="M351.5 158.2L353.47 158.03L355.43 157.85L357.4 157.68L359.37 157.5L361.33 157.32L363.3 157.14L365.27 156.96L367.23 156.77L369.2 156.59L371.17 156.4L373.13 156.22L375.1 156.03L377.07 155.84L379.03 155.65L381 155.46L382.97 155.27L384.93 155.08L386.9 154.88L388.87 154.69L390.83 154.49L392.8 154.29L394.77 154.1L396.73 153.9L398.7 153.7L400.67 153.5L402.63 153.3L404.6 153.1L406.57 152.89L408.53 152.69L410.5 152.49L412.47 152.28L414.43 152.08L416.4 151.87L418.37 151.67L420.33 151.46L422.3 151.25L424.27 151.04L426.23 150.84L428.2 150.63L430.17 150.42L432.13 150.21L434.1 150L436.07 149.79L438.03 149.58L440 149.37L441.97 149.15L443.93 148.94L445.9 148.73L447.87 148.52L449.83 148.31L451.8 148.09L453.77 147.88L455.73 147.67L457.7 147.46L459.67 147.24L461.63 147.03L463.6 146.82L465.57 146.6L467.53 146.39L469.5 146.18L471.47 145.96L473.43 145.75L475.4 145.54L477.37 145.33L479.33 145.11L481.3 144.9L483.27 144.69L485.23 144.48L487.2 144.26L489.17 144.05L491.13 143.84L493.1 143.63L495.07 143.42L497.03 143.21L499 143L500.97 142.79L502.93 142.58L504.9 142.37L506.87 142.17L508.83 141.96L510.8 141.75L512.77 141.55L514.73 141.34L516.7 141.14L518.67 140.93L520.63 140.73L522.6 140.52L524.57 140.32L526.53 140.12L528.5 139.92L530.47 139.72L532.43 139.52L534.4 139.32L536.37 139.12L538.33 138.93L540.3 138.73L542.27 138.54L544.23 138.34L546.2 138.15" stroke="#f00" stroke-width="1.3" stroke-dasharray="3.7 3.3"/>
<path d="M351.5 93.5L352.81 93.5L354.11 93.5L355.42 93.5L356.73 93.5L358.03 93.5L359.34 93.5L360.65 93.5L361.95 93.5L363.26 93.5L364.57 93.5L365.87 93.5L367.18 93.5L368.49 93.5L369.79 93.5L371.1 93.5L372.41 93.5L373.71 93.5L375.02 93.5L376.33 93.5L377.63 93.5L378.94 93.5L380.25 93.5L381.55 93.5L382.86 93.5L384.17 93.5L385.47 93.5L386.78 93.5L388.09 93.5L389.39 93.5L390.7 93.5L392.01 93.5L393.31 93.5L394.62 93.5L395.93 93.5L397.23 93.5L398.54 93.5L399.85 93.5L401.16 93.5L402.46 93.5L403.77 93.5L405.08 93.5L406.38 93.5L407.69 93.5L409 93.5L410.3 93.5L411.61 93.5L412.92 93.5L414.22 93.5L415.53 93.5L416.84 93.49L418.14 93.49L419.45 93.49L420.76 93.49L422.06 93.48L423.37 93.48L424.68 93.48L425.98 93.47L427.29 93.47L428.6 93.46L429.9 93.46L431.21 93.45L432.52 93.44L433.82 93.44L435.13 93.43L436.44 93.42L437.74 93.41L439.05 93.41L440.36 93.4L441.66 93.38L442.97 93.35L444.28 93.32L445.58 93.27L446.89 93.22L448.2 93.17L449.5 93.11L450.81 93.04L452.12 92.98L453.42 92.91L454.73 92.85L456.04 92.79L457.34 92.72L458.65 92.67L459.96 92.61L461.26 92.56L462.57 92.5L463.88 92.45L465.18 92.39L466.49 92.34L467.8 92.28L469.1 92.21L470.41 92.15L471.72 92.07L473.02 92L474.33 91.91L475.64 91.82L476.94 91.72L478.25 91.59L479.56 91.45L480.86 91.29L482.17 91.12L483.48 90.93L484.78 90.74L486.09 90.53L487.4 90.32L488.7 90.1L490.01 89.88L491.32 89.63L492.62 89.37L493.93 89.09L495.24 88.79L496.54 88.47L497.85 88.12L499.16 87.75L500.47 87.31L501.77 86.83L503.08 86.35L504.39 85.87L505.69 85.42L507 84.97L508.31 84.54L509.61 84.09L510.92 83.64L512.23 83.18L513.53 82.69L514.84 82.16L516.15 81.6L517.45 80.99L518.76 80.32L520.07 79.61L521.37 78.88L522.68 78.12L523.99 77.37L525.29 76.61L526.6 75.88L527.91 75.16L529.21 74.46L530.52 73.75L531.83 73.05L533.13 72.35L534.44 71.64L535.75 70.92L537.05 70.19L538.36 69.44L539.67 68.68L540.97 67.89L542.28 67.09L543.59 66.27L544.89 65.41L546.2 64.5" stroke="#00f" stroke-width="1.15" stroke-dasharray="4 1.8 1 1.8"/>
</g>
<g clip-path="url(#cpc)" fill="none" stroke-linejoin="round">
<path d="M38.4 336.52L42.4 332.38L44.37 330.33L46.34 328.38L48.3 326.5L50.27 324.71L52.24 322.99L54.21 321.34L56.17 319.77L58.14 318.27L60.11 316.84L62.08 315.48L64.04 314.18L66.01 312.94L67.98 311.77L69.95 310.65L71.92 309.59L73.88 308.58L75.85 307.63L77.82 306.72L79.79 305.87L81.75 305.05L83.72 304.29L85.69 303.56L87.66 302.87L89.62 302.23L91.59 301.61L93.56 301.03L95.53 300.48L97.49 299.96L99.46 299.47L101.43 299L103.4 298.55L105.37 298.13L107.33 297.72L109.3 297.33L111.27 296.95L113.24 296.59L115.2 296.23L117.17 295.89L119.14 295.56L121.11 295.23L123.07 294.91L125.04 294.6L127.01 294.29L128.98 293.99L130.95 293.69L132.91 293.39L134.88 293.09L136.85 292.79L138.82 292.49L140.78 292.19L142.75 291.88L144.72 291.57L146.69 291.26L148.65 290.95L150.62 290.63L152.59 290.31L154.56 290L156.53 289.68L158.49 289.36L160.46 289.04L162.43 288.72L164.4 288.4L166.36 288.07L168.33 287.75L170.3 287.43L172.27 287.11L174.23 286.79L176.2 286.48L178.17 286.16L180.14 285.84L182.11 285.53L184.07 285.22L186.04 284.91L188.01 284.61L189.98 284.31L191.94 284.01L193.91 283.72L195.88 283.43L197.85 283.14L199.81 282.87L201.78 282.6L203.75 282.33L205.72 282.07L207.68 281.82L209.65 281.58L211.62 281.34L213.59 281.11L215.56 280.89L217.52 280.68L219.49 280.48L221.46 280.29L223.43 280.11L225.39 279.94L227.36 279.78L229.33 279.64L231.3 279.5L233.26 279.38L235.23 279.27L237.2 279.17L241.2 278.98" stroke="#ffff00" stroke-width="1.3" stroke-opacity="1.0"/>
<path d="M37.03 335.2L41.03 331.06L43.01 329L45.01 327.02L47.01 325.11L49.01 323.29L51 321.54L53 319.87L55.01 318.28L57.01 316.75L59.01 315.29L61.01 313.91L63.02 312.58L65.02 311.32L67.02 310.13L69.03 308.99L71.03 307.91L73.04 306.88L75.04 305.91L77.04 304.99L79.04 304.12L81.05 303.29L83.05 302.51L85.05 301.77L87.05 301.08L89.04 300.42L91.04 299.79L93.04 299.2L95.03 298.65L97.02 298.12L99.01 297.62L101 297.15L102.99 296.7L104.97 296.27L106.96 295.86L108.94 295.46L110.92 295.08L112.9 294.72L114.87 294.36L116.85 294.02L118.83 293.68L120.8 293.36L122.77 293.04L124.75 292.73L126.72 292.42L128.69 292.11L130.66 291.81L132.63 291.51L134.59 291.21L136.56 290.91L138.53 290.61L140.49 290.31L142.46 290L144.42 289.69L146.39 289.38L148.36 289.07L150.32 288.75L152.29 288.44L154.25 288.12L156.22 287.8L158.19 287.48L160.15 287.16L162.12 286.84L164.09 286.52L166.06 286.2L168.03 285.88L169.99 285.56L171.96 285.24L173.93 284.92L175.9 284.6L177.87 284.28L179.84 283.97L181.81 283.66L183.78 283.34L185.75 283.04L187.72 282.73L189.69 282.43L191.66 282.13L193.63 281.84L195.61 281.55L197.58 281.26L199.55 280.99L201.52 280.71L203.5 280.45L205.47 280.19L207.45 279.93L209.42 279.69L211.4 279.45L213.37 279.22L215.35 279L217.33 278.79L219.3 278.59L221.28 278.4L223.26 278.22L225.24 278.05L227.21 277.89L229.19 277.74L231.17 277.61L233.15 277.48L235.13 277.37L237.11 277.28L241.11 277.08" stroke="#ffff00" stroke-width="0.9" stroke-opacity="0.4"/>
<path d="M39.77 337.84L43.77 333.69L45.72 331.67L47.66 329.74L49.6 327.89L51.54 326.12L53.47 324.43L55.41 322.82L57.34 321.27L59.28 319.8L61.21 318.39L63.14 317.05L65.07 315.78L67.01 314.56L68.94 313.41L70.87 312.31L72.8 311.27L74.73 310.28L76.66 309.35L78.59 308.46L80.53 307.62L82.46 306.82L84.4 306.06L86.33 305.35L88.27 304.67L90.2 304.03L92.14 303.43L94.08 302.86L96.03 302.31L97.97 301.8L99.91 301.31L101.86 300.85L103.81 300.41L105.76 299.98L107.71 299.58L109.66 299.19L111.62 298.82L113.58 298.46L115.53 298.1L117.49 297.76L119.45 297.43L121.41 297.11L123.38 296.79L125.34 296.48L127.3 296.17L129.27 295.87L131.23 295.57L133.2 295.27L135.17 294.97L137.14 294.67L139.11 294.37L141.08 294.06L143.05 293.76L145.02 293.45L146.98 293.14L148.95 292.82L150.92 292.51L152.89 292.19L154.86 291.87L156.83 291.55L158.8 291.23L160.77 290.91L162.73 290.59L164.7 290.27L166.67 289.95L168.64 289.63L170.6 289.31L172.57 288.99L174.54 288.67L176.5 288.35L178.47 288.04L180.44 287.72L182.4 287.41L184.37 287.1L186.33 286.79L188.3 286.49L190.26 286.19L192.23 285.89L194.19 285.6L196.15 285.31L198.11 285.03L200.08 284.75L202.04 284.48L204 284.21L205.96 283.96L207.92 283.7L209.88 283.46L211.84 283.23L213.8 283L215.76 282.78L217.72 282.57L219.68 282.37L221.64 282.18L223.59 282L225.55 281.84L227.51 281.68L229.46 281.53L231.42 281.4L233.38 281.28L235.33 281.17L237.29 281.07L241.29 280.88" stroke="#ffff00" stroke-width="0.9" stroke-opacity="0.4"/>
<path d="M38.4 320.86L42.4 316.57L44.37 314.46L46.34 312.48L48.3 310.63L50.27 308.89L52.24 307.28L54.21 305.76L56.17 304.35L58.14 303.04L60.11 301.81L62.08 300.67L64.04 299.6L66.01 298.61L67.98 297.68L69.95 296.81L71.92 296L73.88 295.24L75.85 294.52L77.82 293.85L79.79 293.21L81.75 292.6L83.72 292.02L85.69 291.46L87.66 290.93L89.62 290.42L91.59 289.93L93.56 289.47L95.53 289.01L97.49 288.58L99.46 288.16L101.43 287.75L103.4 287.36L105.37 286.97L107.33 286.59L109.3 286.21L111.27 285.85L113.24 285.48L115.2 285.12L117.17 284.75L119.14 284.39L121.11 284.04L123.07 283.68L125.04 283.32L127.01 282.96L128.98 282.6L130.95 282.23L132.91 281.87L134.88 281.5L136.85 281.12L138.82 280.75L140.78 280.36L142.75 279.98L144.72 279.59L146.69 279.2L148.65 278.8L150.62 278.41L152.59 278.02L154.56 277.62L156.53 277.23L158.49 276.85L160.46 276.47L162.43 276.09L164.4 275.72L166.36 275.35L168.33 274.99L170.3 274.64L172.27 274.3L174.23 273.97L176.2 273.65L178.17 273.34L180.14 273.05L182.11 272.76L184.07 272.49L186.04 272.23L188.01 271.98L189.98 271.75L191.94 271.52L193.91 271.3L195.88 271.08L197.85 270.88L199.81 270.68L201.78 270.49L203.75 270.31L205.72 270.13L207.68 269.96L209.65 269.79L211.62 269.63L213.59 269.47L215.56 269.32L217.52 269.16L219.49 269.01L221.46 268.86L223.43 268.71L225.39 268.56L227.36 268.41L229.33 268.26L231.3 268.11L233.26 267.96L235.23 267.81L237.2 267.65L241.2 267.33" stroke="#ff00ff" stroke-width="1.3" stroke-opacity="1.0"/>
<path d="M37.01 319.56L41.01 315.27L43 313.14L45.01 311.12L47.02 309.22L49.04 307.45L51.06 305.79L53.07 304.24L55.09 302.79L57.11 301.44L59.13 300.19L61.15 299.01L63.16 297.92L65.18 296.9L67.19 295.95L69.2 295.06L71.21 294.23L73.22 293.46L75.22 292.73L77.22 292.04L79.21 291.4L81.2 290.78L83.19 290.19L85.18 289.63L87.17 289.09L89.16 288.58L91.14 288.09L93.13 287.62L95.11 287.16L97.09 286.72L99.07 286.3L101.05 285.89L103.03 285.49L105 285.1L106.98 284.72L108.95 284.35L110.92 283.98L112.89 283.61L114.86 283.25L116.83 282.89L118.8 282.53L120.77 282.17L122.73 281.81L124.7 281.45L126.67 281.09L128.63 280.73L130.6 280.36L132.56 280L134.53 279.63L136.49 279.26L138.46 278.88L140.42 278.5L142.38 278.11L144.35 277.72L146.32 277.33L148.28 276.94L150.25 276.55L152.22 276.15L154.19 275.76L156.16 275.37L158.13 274.98L160.1 274.6L162.07 274.22L164.05 273.85L166.02 273.48L167.99 273.12L169.97 272.77L171.95 272.43L173.92 272.1L175.9 271.77L177.88 271.46L179.86 271.17L181.84 270.88L183.82 270.61L185.8 270.35L187.77 270.1L189.75 269.86L191.73 269.63L193.7 269.41L195.68 269.19L197.65 268.99L199.63 268.79L201.6 268.6L203.58 268.42L205.55 268.24L207.52 268.07L209.49 267.9L211.47 267.74L213.44 267.58L215.41 267.42L217.38 267.27L219.35 267.12L221.31 266.97L223.28 266.82L225.25 266.67L227.22 266.52L229.18 266.37L231.15 266.22L233.12 266.07L235.08 265.91L237.05 265.76L241.05 265.44" stroke="#ff00ff" stroke-width="0.9" stroke-opacity="0.4"/>
<path d="M39.79 322.16L43.79 317.86L45.74 315.77L47.66 313.84L49.58 312.03L51.5 310.34L53.42 308.76L55.34 307.29L57.26 305.92L59.17 304.64L61.09 303.44L63.01 302.32L64.93 301.28L66.85 300.31L68.77 299.4L70.69 298.56L72.62 297.76L74.55 297.01L76.48 296.31L78.42 295.65L80.36 295.02L82.3 294.42L84.25 293.84L86.19 293.29L88.14 292.77L90.09 292.26L92.04 291.78L93.99 291.32L95.94 290.87L97.9 290.44L99.85 290.02L101.81 289.61L103.77 289.22L105.73 288.83L107.69 288.45L109.65 288.08L111.62 287.71L113.58 287.35L115.55 286.98L117.51 286.62L119.48 286.26L121.45 285.9L123.42 285.55L125.38 285.19L127.35 284.83L129.32 284.46L131.29 284.1L133.26 283.73L135.23 283.36L137.2 282.99L139.18 282.61L141.15 282.23L143.12 281.84L145.09 281.45L147.06 281.06L149.03 280.67L150.99 280.27L152.96 279.88L154.93 279.49L156.89 279.1L158.86 278.71L160.82 278.33L162.78 277.95L164.75 277.58L166.71 277.22L168.67 276.86L170.63 276.51L172.59 276.17L174.54 275.84L176.5 275.53L178.46 275.22L180.41 274.93L182.37 274.65L184.33 274.38L186.28 274.12L188.24 273.87L190.2 273.63L192.16 273.4L194.12 273.18L196.08 272.97L198.04 272.77L200 272.57L201.96 272.39L203.92 272.2L205.89 272.03L207.85 271.85L209.81 271.69L211.78 271.53L213.74 271.37L215.7 271.21L217.67 271.06L219.64 270.91L221.6 270.76L223.57 270.61L225.54 270.46L227.51 270.31L229.47 270.16L231.44 270.01L233.41 269.86L235.38 269.7L237.35 269.54L241.35 269.22" stroke="#ff00ff" stroke-width="0.9" stroke-opacity="0.4"/>
<path d="M38.4 301.82L42.4 299.57L44.37 298.47L46.34 297.42L48.3 296.42L50.27 295.47L52.24 294.57L54.21 293.72L56.17 292.91L58.14 292.15L60.11 291.43L62.08 290.75L64.04 290.1L66.01 289.5L67.98 288.93L69.95 288.4L71.92 287.9L73.88 287.43L75.85 286.99L77.82 286.58L79.79 286.19L81.75 285.83L83.72 285.49L85.69 285.17L87.66 284.88L89.62 284.6L91.59 284.34L93.56 284.09L95.53 283.86L97.49 283.64L99.46 283.43L101.43 283.23L103.4 283.04L105.37 282.85L107.33 282.67L109.3 282.49L111.27 282.31L113.24 282.13L115.2 281.95L117.17 281.77L119.14 281.59L121.11 281.41L123.07 281.23L125.04 281.05L127.01 280.87L128.98 280.69L130.95 280.51L132.91 280.34L134.88 280.16L136.85 279.98L138.82 279.81L140.78 279.63L142.75 279.46L144.72 279.28L146.69 279.11L148.65 278.94L150.62 278.76L152.59 278.59L154.56 278.42L156.53 278.25L158.49 278.09L160.46 277.92L162.43 277.75L164.4 277.59L166.36 277.42L168.33 277.26L170.3 277.1L172.27 276.94L174.23 276.78L176.2 276.63L178.17 276.47L180.14 276.32L182.11 276.17L184.07 276.02L186.04 275.87L188.01 275.72L189.98 275.58L191.94 275.43L193.91 275.29L195.88 275.15L197.85 275.02L199.81 274.88L201.78 274.75L203.75 274.62L205.72 274.49L207.68 274.36L209.65 274.24L211.62 274.12L213.59 274L215.56 273.88L217.52 273.76L219.49 273.65L221.46 273.54L223.43 273.43L225.39 273.33L227.36 273.23L229.33 273.13L231.3 273.03L233.26 272.94L235.23 272.85L237.2 272.76L241.2 272.58" stroke="#00ff00" stroke-width="1.3" stroke-opacity="1.0"/>
<path d="M37.47 300.16L41.47 297.92L43.46 296.8L45.46 295.73L47.46 294.72L49.46 293.75L51.47 292.84L53.47 291.97L55.47 291.15L57.47 290.37L59.47 289.64L61.47 288.95L63.47 288.29L65.47 287.68L67.47 287.1L69.46 286.56L71.46 286.05L73.45 285.58L75.45 285.13L77.44 284.71L79.43 284.32L81.42 283.96L83.41 283.62L85.4 283.3L87.38 283L89.37 282.72L91.35 282.45L93.33 282.21L95.31 281.97L97.29 281.75L99.27 281.54L101.24 281.34L103.22 281.15L105.19 280.96L107.16 280.77L109.13 280.59L111.1 280.41L113.06 280.23L115.03 280.05L117 279.87L118.97 279.7L120.93 279.52L122.9 279.34L124.87 279.16L126.84 278.98L128.81 278.8L130.77 278.62L132.74 278.44L134.71 278.27L136.68 278.09L138.65 277.91L140.62 277.74L142.58 277.56L144.55 277.39L146.52 277.22L148.49 277.04L150.46 276.87L152.43 276.7L154.39 276.53L156.36 276.36L158.33 276.19L160.3 276.03L162.27 275.86L164.24 275.69L166.21 275.53L168.18 275.37L170.14 275.21L172.11 275.05L174.08 274.89L176.05 274.73L178.02 274.58L179.99 274.43L181.96 274.27L183.93 274.12L185.9 273.97L187.87 273.83L189.84 273.68L191.81 273.54L193.78 273.4L195.75 273.26L197.72 273.12L199.68 272.99L201.65 272.85L203.62 272.72L205.59 272.59L207.56 272.47L209.53 272.34L211.5 272.22L213.47 272.1L215.44 271.98L217.41 271.87L219.38 271.75L221.35 271.64L223.32 271.54L225.29 271.43L227.26 271.33L229.24 271.23L231.21 271.13L233.18 271.04L235.15 270.95L237.12 270.86L241.12 270.68" stroke="#00ff00" stroke-width="0.9" stroke-opacity="0.4"/>
<path d="M39.33 303.47L43.33 301.23L45.28 300.14L47.21 299.1L49.15 298.12L51.08 297.19L53.01 296.31L54.94 295.47L56.88 294.68L58.81 293.93L60.75 293.22L62.68 292.55L64.62 291.92L66.55 291.32L68.49 290.76L70.43 290.24L72.37 289.74L74.31 289.28L76.25 288.84L78.2 288.44L80.14 288.06L82.09 287.7L84.03 287.36L85.98 287.05L87.93 286.76L89.88 286.48L91.83 286.22L93.79 285.98L95.74 285.75L97.7 285.53L99.66 285.32L101.62 285.12L103.58 284.93L105.54 284.74L107.51 284.56L109.47 284.38L111.44 284.2L113.41 284.02L115.38 283.84L117.34 283.66L119.31 283.48L121.28 283.3L123.25 283.12L125.21 282.94L127.18 282.76L129.15 282.58L131.12 282.41L133.08 282.23L135.05 282.05L137.02 281.87L138.99 281.7L140.95 281.52L142.92 281.35L144.89 281.17L146.85 281L148.82 280.83L150.79 280.66L152.75 280.49L154.72 280.32L156.69 280.15L158.65 279.98L160.62 279.81L162.59 279.65L164.55 279.48L166.52 279.32L168.49 279.16L170.45 279L172.42 278.84L174.39 278.68L176.35 278.52L178.32 278.37L180.28 278.21L182.25 278.06L184.22 277.91L186.18 277.76L188.15 277.62L190.11 277.47L192.08 277.33L194.05 277.19L196.01 277.05L197.98 276.91L199.94 276.78L201.91 276.64L203.87 276.51L205.84 276.38L207.81 276.26L209.77 276.13L211.74 276.01L213.7 275.89L215.67 275.78L217.63 275.66L219.6 275.55L221.56 275.44L223.53 275.33L225.49 275.23L227.46 275.13L229.42 275.03L231.39 274.93L233.35 274.84L235.32 274.75L237.28 274.66L241.28 274.48" stroke="#00ff00" stroke-width="0.9" stroke-opacity="0.4"/>
<path d="M38.4 260.7L42.4 260.7L237.4 260.7L241.4 260.7" stroke="#6b6b6b" stroke-width="2"/>
<path d="M42.4 381.84L44.37 380.57L46.34 379.31L48.31 378.06L50.28 376.81L52.25 375.58L54.22 374.35L56.19 373.13L58.16 371.91L60.13 370.71L62.1 369.51L64.07 368.32L66.04 367.14L68.01 365.96L69.98 364.79L71.95 363.63L73.92 362.48L75.88 361.33L77.85 360.19L79.82 359.06L81.79 357.94L83.76 356.82L85.73 355.71L87.7 354.61L89.67 353.51L91.64 352.43L93.61 351.35L95.58 350.27L97.55 349.2L99.52 348.15L101.49 347.09L103.46 346.05L105.43 345.01L107.4 343.98L109.37 342.95L111.34 341.93L113.31 340.92L115.28 339.91L117.25 338.91L119.22 337.91L121.19 336.92L123.16 335.93L125.13 334.95L127.1 333.97L129.07 333L131.04 332.03L133.01 331.06L134.98 330.1L136.95 329.14L138.92 328.18L140.88 327.23L142.85 326.27L144.82 325.33L146.79 324.38L148.76 323.43L150.73 322.49L152.7 321.55L154.67 320.61L156.64 319.67L158.61 318.73L160.58 317.8L162.55 316.87L164.52 315.94L166.49 315.01L168.46 314.09L170.43 313.17L172.4 312.25L174.37 311.34L176.34 310.43L178.31 309.52L180.28 308.61L182.25 307.71L184.22 306.82L186.19 305.93L188.16 305.04L190.13 304.15L192.1 303.27L194.07 302.4L196.04 301.53L198.01 300.66L199.98 299.8L201.95 298.94L203.92 298.09L205.88 297.25L207.85 296.41L209.82 295.57L211.79 294.74L213.76 293.92L215.73 293.1L217.7 292.29L219.67 291.48L221.64 290.68L223.61 289.89L225.58 289.1L227.55 288.32L229.52 287.55L231.49 286.79L233.46 286.03L235.43 285.27L237.4 284.53" stroke="#f00" stroke-width="1.3" stroke-dasharray="3.7 3.3"/>
<path d="M42.4 314.5L43.71 314.39L45.02 314.29L46.33 314.19L47.63 314.08L48.94 313.98L50.25 313.87L51.56 313.77L52.87 313.67L54.18 313.57L55.49 313.46L56.8 313.36L58.1 313.26L59.41 313.16L60.72 313.06L62.03 312.96L63.34 312.86L64.65 312.76L65.96 312.66L67.27 312.56L68.57 312.46L69.88 312.36L71.19 312.26L72.5 312.16L73.81 312.07L75.12 311.97L76.43 311.87L77.74 311.78L79.04 311.69L80.35 311.6L81.66 311.51L82.97 311.42L84.28 311.33L85.59 311.24L86.9 311.15L88.21 311.06L89.51 310.98L90.82 310.89L92.13 310.81L93.44 310.72L94.75 310.64L96.06 310.56L97.37 310.48L98.68 310.4L99.98 310.33L101.29 310.26L102.6 310.19L103.91 310.12L105.22 310.05L106.53 309.98L107.84 309.92L109.14 309.86L110.45 309.79L111.76 309.73L113.07 309.67L114.38 309.61L115.69 309.54L117 309.48L118.31 309.42L119.61 309.35L120.92 309.28L122.23 309.22L123.54 309.15L124.85 309.08L126.16 309.01L127.47 308.94L128.78 308.87L130.08 308.8L131.39 308.72L132.7 308.64L134.01 308.56L135.32 308.48L136.63 308.4L137.94 308.31L139.25 308.23L140.55 308.14L141.86 308.06L143.17 307.97L144.48 307.88L145.79 307.79L147.1 307.71L148.41 307.62L149.72 307.54L151.02 307.45L152.33 307.36L153.64 307.28L154.95 307.19L156.26 307.09L157.57 307L158.88 306.9L160.19 306.8L161.49 306.69L162.8 306.58L164.11 306.46L165.42 306.33L166.73 306.2L168.04 306.06L169.35 305.92L170.66 305.78L171.96 305.64L173.27 305.5L174.58 305.36L175.89 305.22L177.2 305.09L178.51 304.96L179.82 304.83L181.12 304.71L182.43 304.58L183.74 304.45L185.05 304.33L186.36 304.2L187.67 304.08L188.98 303.96L190.29 303.84L191.59 303.72L192.9 303.6L194.21 303.48L195.52 303.37L196.83 303.26L198.14 303.15L199.45 303.03L200.76 302.92L202.06 302.82L203.37 302.71L204.68 302.61L205.99 302.5L207.3 302.4L208.61 302.3L209.92 302.2L211.23 302.11L212.53 302.01L213.84 301.92L215.15 301.83L216.46 301.74L217.77 301.66L219.08 301.57L220.39 301.48L221.7 301.39L223 301.29L224.31 301.2L225.62 301.1L226.93 301.01L228.24 300.91L229.55 300.81L230.86 300.71L232.17 300.61L233.47 300.51L234.78 300.41L236.09 300.3L237.4 300.2" stroke="#00f" stroke-width="1.15" stroke-dasharray="4 1.8 1 1.8"/>
</g>
<g clip-path="url(#cpd)" fill="none" stroke-linejoin="round">
<path d="M347.63 305.44L351.63 305.7L360.07 306.23L368.15 306.76L375.88 307.29L383.27 307.82L390.34 308.35L397.11 308.87L403.58 309.39L409.78 309.92L415.7 310.44L421.37 310.96L426.8 311.47L431.99 311.99L436.96 312.5L441.71 313.01L446.26 313.53L450.61 314.03L454.77 314.54L458.75 315.05L462.57 315.55L466.21 316.05L469.7 316.55L473.04 317.05L476.24 317.54L479.3 318.04L482.23 318.53L485.03 319.02L487.71 319.51L490.27 319.99L492.73 320.48L495.08 320.96L497.33 321.44L499.49 321.92L501.55 322.39L503.52 322.87L505.41 323.34L507.22 323.81L508.95 324.28L510.61 324.74L512.2 325.21L513.72 325.67L515.18 326.13L516.57 326.58L517.91 327.04L519.19 327.49L520.41 327.94L521.58 328.38L522.71 328.83L523.79 329.27L524.82 329.71L525.81 330.15L526.76 330.58L527.66 331.01L528.53 331.44L529.37 331.87L530.17 332.29L530.93 332.72L531.67 333.13L532.37 333.55L533.05 333.96L533.69 334.37L534.31 334.78L534.91 335.19L535.48 335.59L536.02 335.99L536.55 336.39L537.05 336.78L537.53 337.17L537.99 337.56L538.43 337.95L538.86 338.33L539.26 338.71L539.65 339.09L540.03 339.46L540.39 339.84L540.73 340.21L541.06 340.57L541.37 340.94L541.67 341.3L541.96 341.66L542.24 342.01L542.5 342.36L542.76 342.71L543 343.06L543.23 343.4L543.46 343.74L543.67 344.08L543.87 344.41L544.07 344.74L544.26 345.07L544.43 345.39L544.6 345.71L544.77 346.03L544.93 346.35L545.07 346.66L545.22 346.98L545.36 347.28L545.49 347.59L545.61 347.89L545.73 348.2L545.85 348.49L545.95 348.79L546.06 349.08L546.16 349.38L546.25 349.67L546.35 349.95L546.43 350.24L546.52 350.52L546.6 350.8L546.67 351.08L546.74 351.36L546.81 351.64L546.88 351.91L546.94 352.19L547 352.46L547.06 352.73L547.12 353L547.17 353.26L547.22 353.53L547.27 353.79L551.27 375.87" stroke="#ffff00" stroke-width="0.9" stroke-opacity="0.75"/>
<path d="M347.54 306.84L351.54 307.09L359.98 307.63L368.05 308.16L375.78 308.69L383.17 309.22L390.24 309.74L397 310.27L403.47 310.79L409.66 311.31L415.58 311.83L421.24 312.35L426.66 312.87L431.85 313.38L436.81 313.89L441.56 314.41L446.1 314.92L450.44 315.42L454.6 315.93L458.57 316.43L462.38 316.94L466.02 317.44L469.5 317.94L472.83 318.43L476.02 318.93L479.07 319.42L481.99 319.91L484.78 320.4L487.45 320.88L490.01 321.37L492.45 321.85L494.79 322.33L497.03 322.81L499.18 323.28L501.23 323.76L503.19 324.23L505.07 324.7L506.86 325.16L508.58 325.63L510.23 326.09L511.8 326.55L513.31 327L514.75 327.46L516.13 327.91L517.45 328.36L518.71 328.8L519.92 329.25L521.08 329.69L522.19 330.13L523.25 330.56L524.26 330.99L525.23 331.42L526.16 331.85L527.05 332.27L527.9 332.69L528.72 333.11L529.5 333.53L530.25 333.94L530.96 334.34L531.65 334.75L532.3 335.15L532.93 335.55L533.53 335.95L534.11 336.34L534.66 336.73L535.19 337.11L535.69 337.49L536.17 337.87L536.64 338.25L537.08 338.62L537.5 338.99L537.91 339.36L538.3 339.73L538.67 340.09L539.03 340.44L539.37 340.8L539.69 341.15L540.01 341.5L540.31 341.84L540.59 342.19L540.87 342.53L541.13 342.86L541.38 343.2L541.62 343.53L541.85 343.85L542.07 344.18L542.28 344.5L542.48 344.82L542.67 345.13L542.86 345.44L543.03 345.75L543.2 346.06L543.36 346.36L543.52 346.66L543.67 346.96L543.81 347.26L543.94 347.55L544.07 347.84L544.2 348.13L544.31 348.42L544.43 348.7L544.53 348.99L544.64 349.27L544.74 349.55L544.83 349.82L544.92 350.1L545.01 350.37L545.09 350.64L545.17 350.91L545.25 351.18L545.32 351.44L545.39 351.71L545.45 351.97L545.52 352.24L545.58 352.5L545.64 352.76L545.69 353.01L545.74 353.27L545.79 353.53L545.84 353.79L545.89 354.04L549.89 376.12" stroke="#ffff00" stroke-width="0.9" stroke-opacity="0.85"/>
<path d="M347.46 308.24L351.46 308.49L359.89 309.02L367.96 309.55L375.68 310.08L383.06 310.61L390.13 311.14L396.89 311.66L403.35 312.19L409.54 312.71L415.45 313.23L421.11 313.74L426.53 314.26L431.71 314.77L436.66 315.29L441.4 315.8L445.94 316.31L450.28 316.81L454.43 317.32L458.39 317.82L462.19 318.32L465.82 318.82L469.3 319.32L472.62 319.82L475.8 320.31L478.84 320.8L481.75 321.29L484.54 321.78L487.2 322.26L489.74 322.74L492.18 323.22L494.51 323.7L496.74 324.18L498.87 324.65L500.91 325.12L502.86 325.59L504.72 326.05L506.5 326.52L508.21 326.98L509.84 327.44L511.4 327.89L512.89 328.34L514.32 328.79L515.68 329.24L516.99 329.68L518.24 330.12L519.43 330.56L520.57 330.99L521.66 331.43L522.71 331.85L523.7 332.28L524.66 332.7L525.57 333.12L526.44 333.53L527.28 333.94L528.07 334.35L528.84 334.76L529.56 335.16L530.26 335.56L530.93 335.95L531.56 336.34L532.17 336.73L532.75 337.11L533.31 337.49L533.84 337.86L534.35 338.23L534.84 338.6L535.3 338.97L535.74 339.33L536.17 339.69L536.57 340.04L536.96 340.39L537.33 340.74L537.69 341.08L538.03 341.42L538.35 341.76L538.66 342.09L538.96 342.42L539.24 342.75L539.51 343.08L539.77 343.4L540.02 343.71L540.25 344.03L540.48 344.34L540.7 344.65L540.9 344.95L541.1 345.26L541.29 345.55L541.47 345.85L541.65 346.15L541.81 346.44L541.97 346.72L542.12 347.01L542.27 347.29L542.41 347.57L542.54 347.85L542.67 348.13L542.79 348.4L542.9 348.67L543.02 348.94L543.12 349.21L543.22 349.48L543.32 349.74L543.42 350.01L543.5 350.27L543.59 350.53L543.67 350.79L543.75 351.04L543.83 351.3L543.9 351.55L543.97 351.8L544.03 352.06L544.09 352.31L544.16 352.56L544.21 352.81L544.27 353.05L544.32 353.3L544.37 353.55L544.42 353.79L544.47 354.04L544.51 354.29L548.51 376.37" stroke="#ffff00" stroke-width="0.9" stroke-opacity="0.85"/>
<path d="M347.37 309.64L351.37 309.89L359.8 310.42L367.87 310.95L375.58 311.48L382.96 312.01L390.02 312.53L396.78 313.06L403.24 313.58L409.42 314.1L415.33 314.62L420.98 315.14L426.39 315.65L431.57 316.17L436.52 316.68L441.25 317.19L445.78 317.7L450.11 318.2L454.25 318.71L458.22 319.21L462.01 319.71L465.63 320.21L469.1 320.71L472.41 321.2L475.58 321.69L478.62 322.18L481.52 322.67L484.29 323.15L486.94 323.64L489.48 324.12L491.9 324.6L494.22 325.07L496.44 325.54L498.56 326.02L500.59 326.48L502.52 326.95L504.38 327.41L506.15 327.87L507.84 328.33L509.46 328.78L511 329.23L512.48 329.68L513.89 330.12L515.24 330.57L516.53 331L517.76 331.44L518.94 331.87L520.07 332.3L521.14 332.72L522.17 333.15L523.15 333.56L524.08 333.98L524.98 334.39L525.83 334.79L526.65 335.2L527.43 335.59L528.17 335.99L528.88 336.38L529.56 336.77L530.21 337.15L530.82 337.53L531.41 337.9L531.98 338.27L532.51 338.64L533.03 339L533.51 339.36L533.98 339.71L534.43 340.06L534.85 340.41L535.26 340.75L535.64 341.09L536.01 341.42L536.37 341.75L536.7 342.08L537.03 342.4L537.33 342.72L537.63 343.04L537.91 343.35L538.17 343.66L538.43 343.96L538.67 344.27L538.91 344.57L539.13 344.86L539.34 345.15L539.55 345.44L539.74 345.73L539.93 346.01L540.1 346.29L540.27 346.57L540.44 346.85L540.59 347.12L540.74 347.39L540.88 347.66L541.02 347.92L541.15 348.19L541.27 348.45L541.39 348.71L541.5 348.96L541.61 349.22L541.72 349.47L541.82 349.72L541.91 349.97L542.01 350.22L542.09 350.47L542.18 350.71L542.26 350.96L542.34 351.2L542.41 351.44L542.48 351.69L542.55 351.93L542.61 352.17L542.68 352.4L542.74 352.64L542.79 352.88L542.85 353.12L542.9 353.35L542.95 353.59L543 353.82L543.05 354.06L543.09 354.29L543.13 354.54L547.13 376.62" stroke="#ffff00" stroke-width="0.9" stroke-opacity="0.75"/>
<path d="M347.63 291.23L351.63 291.47L360.41 291.99L368.81 292.52L376.83 293.04L384.48 293.57L391.79 294.1L398.77 294.62L405.44 295.15L411.81 295.67L417.89 296.2L423.7 296.73L429.24 297.25L434.54 297.78L439.6 298.3L444.43 298.83L449.04 299.35L453.45 299.88L457.65 300.41L461.67 300.93L465.51 301.45L469.18 301.98L472.68 302.5L476.03 303.03L479.23 303.55L482.28 304.07L485.2 304.6L487.98 305.12L490.64 305.64L493.19 306.16L495.62 306.68L497.94 307.2L500.16 307.72L502.28 308.24L504.31 308.76L506.24 309.28L508.09 309.79L509.86 310.31L511.55 310.83L513.17 311.34L514.72 311.86L516.2 312.37L517.61 312.89L518.96 313.4L520.25 313.92L521.49 314.43L522.67 314.94L523.8 315.45L524.88 315.96L525.92 316.47L526.91 316.98L527.86 317.49L528.76 318L529.63 318.51L530.46 319.01L531.26 319.52L532.02 320.03L532.74 320.53L533.44 321.03L534.11 321.54L534.74 322.04L535.35 322.54L535.94 323.04L536.49 323.54L537.03 324.03L537.54 324.53L538.03 325.02L538.49 325.52L538.94 326.01L539.37 326.5L539.77 326.98L540.16 327.47L540.54 327.95L540.89 328.43L541.23 328.9L541.56 329.38L541.86 329.85L542.16 330.32L542.44 330.79L542.71 331.25L542.97 331.71L543.21 332.17L543.45 332.62L543.67 333.07L543.89 333.52L544.09 333.96L544.28 334.4L544.47 334.83L544.64 335.27L544.81 335.7L544.97 336.12L545.13 336.54L545.27 336.96L545.41 337.37L545.54 337.78L545.67 338.19L545.79 338.59L545.91 338.99L546.02 339.38L546.12 339.77L546.22 340.15L546.32 340.53L546.41 340.91L546.49 341.28L546.58 341.65L546.65 342.02L546.73 342.38L546.8 342.73L546.87 343.09L546.94 343.43L547 343.78L547.06 344.12L547.11 344.45L547.17 344.78L547.22 345.11L547.27 345.43L547.32 345.74L547.36 346.06L547.4 346.36L547.44 346.67L547.48 346.96L551.48 377.69" stroke="#ff00ff" stroke-width="0.9" stroke-opacity="0.75"/>
<path d="M347.54 292.63L351.54 292.87L360.33 293.39L368.72 293.92L376.73 294.44L384.38 294.97L391.69 295.49L398.67 296.02L405.33 296.54L411.69 297.07L417.77 297.59L423.57 298.12L429.11 298.64L434.4 299.17L439.45 299.7L444.27 300.22L448.88 300.75L453.28 301.27L457.48 301.79L461.49 302.32L465.32 302.84L468.98 303.36L472.47 303.89L475.81 304.41L478.99 304.93L482.04 305.45L484.94 305.97L487.72 306.49L490.37 307.01L492.9 307.53L495.32 308.05L497.63 308.57L499.83 309.08L501.94 309.6L503.95 310.11L505.87 310.63L507.71 311.14L509.46 311.65L511.14 312.16L512.74 312.68L514.27 313.18L515.73 313.69L517.12 314.2L518.45 314.71L519.73 315.21L520.94 315.72L522.11 316.22L523.22 316.72L524.28 317.22L525.29 317.72L526.26 318.22L527.18 318.72L528.07 319.21L528.91 319.71L529.72 320.2L530.49 320.69L531.23 321.18L531.94 321.67L532.61 322.16L533.25 322.65L533.87 323.13L534.45 323.61L535.02 324.09L535.55 324.57L536.06 325.05L536.55 325.52L537.02 326L537.47 326.47L537.9 326.94L538.3 327.41L538.69 327.87L539.06 328.33L539.42 328.79L539.76 329.25L540.08 329.71L540.39 330.16L540.69 330.61L540.97 331.06L541.24 331.5L541.5 331.94L541.74 332.38L541.98 332.82L542.2 333.25L542.41 333.68L542.62 334.11L542.81 334.53L543 334.95L543.17 335.37L543.34 335.79L543.51 336.2L543.66 336.61L543.81 337.01L543.95 337.41L544.08 337.81L544.21 338.21L544.33 338.6L544.45 338.98L544.56 339.37L544.67 339.75L544.77 340.13L544.86 340.5L544.96 340.87L545.04 341.23L545.13 341.6L545.21 341.95L545.29 342.31L545.36 342.66L545.43 343.01L545.5 343.35L545.56 343.69L545.62 344.02L545.68 344.35L545.73 344.68L545.79 345L545.84 345.32L545.88 345.64L545.93 345.95L545.97 346.25L546.02 346.55L546.06 346.85L546.09 347.14L550.09 377.87" stroke="#ff00ff" stroke-width="0.9" stroke-opacity="0.85"/>
<path d="M347.46 294.02L351.46 294.26L360.24 294.79L368.63 295.31L376.64 295.84L384.29 296.36L391.59 296.89L398.56 297.41L405.22 297.94L411.57 298.46L417.64 298.99L423.44 299.51L428.97 300.04L434.25 300.56L439.3 301.09L444.12 301.61L448.72 302.14L453.11 302.66L457.3 303.18L461.3 303.71L465.13 304.23L468.78 304.75L472.26 305.27L475.59 305.79L478.76 306.31L481.8 306.83L484.69 307.35L487.46 307.87L490.09 308.38L492.61 308.9L495.02 309.42L497.32 309.93L499.51 310.44L501.6 310.96L503.6 311.47L505.5 311.98L507.32 312.49L509.06 312.99L510.72 313.5L512.3 314.01L513.81 314.51L515.26 315.01L516.63 315.51L517.95 316.01L519.2 316.51L520.4 317.01L521.54 317.5L522.63 317.99L523.67 318.48L524.66 318.97L525.61 319.46L526.51 319.95L527.37 320.43L528.2 320.91L528.98 321.39L529.73 321.87L530.44 322.34L531.13 322.82L531.78 323.29L532.4 323.76L532.99 324.22L533.55 324.69L534.09 325.15L534.61 325.61L535.1 326.06L535.57 326.52L536.02 326.97L536.44 327.42L536.85 327.87L537.24 328.32L537.61 328.76L537.96 329.2L538.3 329.64L538.63 330.07L538.93 330.51L539.23 330.94L539.51 331.37L539.78 331.79L540.04 332.22L540.28 332.64L540.51 333.05L540.74 333.47L540.95 333.88L541.15 334.29L541.35 334.7L541.54 335.11L541.71 335.51L541.88 335.91L542.04 336.31L542.2 336.7L542.35 337.09L542.49 337.48L542.62 337.87L542.75 338.25L542.88 338.63L542.99 339.01L543.11 339.38L543.21 339.75L543.32 340.12L543.41 340.48L543.51 340.84L543.6 341.2L543.68 341.56L543.76 341.91L543.84 342.26L543.92 342.6L543.99 342.94L544.06 343.28L544.12 343.61L544.18 343.94L544.24 344.27L544.3 344.59L544.35 344.91L544.4 345.22L544.45 345.54L544.5 345.84L544.55 346.15L544.59 346.45L544.63 346.74L544.67 347.03L544.71 347.32L548.71 378.05" stroke="#ff00ff" stroke-width="0.9" stroke-opacity="0.85"/>
<path d="M347.37 295.42L351.37 295.66L360.16 296.19L368.54 296.71L376.54 297.23L384.19 297.76L391.48 298.28L398.45 298.81L405.1 299.33L411.45 299.86L417.52 300.38L423.31 300.91L428.84 301.43L434.11 301.96L439.15 302.48L443.96 303L448.55 303.53L452.94 304.05L457.12 304.57L461.12 305.09L464.93 305.61L468.57 306.14L472.05 306.65L475.37 307.17L478.53 307.69L481.55 308.21L484.44 308.73L487.19 309.24L489.82 309.76L492.33 310.27L494.72 310.78L497 311.3L499.18 311.81L501.26 312.31L503.24 312.82L505.14 313.33L506.94 313.83L508.66 314.34L510.3 314.84L511.87 315.34L513.36 315.84L514.79 316.33L516.15 316.83L517.44 317.32L518.67 317.81L519.85 318.3L520.97 318.78L522.04 319.26L523.06 319.75L524.03 320.22L524.96 320.7L525.84 321.17L526.68 321.64L527.48 322.11L528.24 322.58L528.97 323.04L529.66 323.5L530.32 323.96L530.94 324.41L531.54 324.86L532.11 325.31L532.66 325.76L533.17 326.2L533.67 326.64L534.14 327.08L534.58 327.51L535.01 327.95L535.42 328.38L535.81 328.8L536.18 329.23L536.53 329.65L536.87 330.07L537.19 330.48L537.49 330.9L537.79 331.31L538.07 331.72L538.33 332.12L538.59 332.53L538.83 332.93L539.06 333.33L539.29 333.73L539.5 334.12L539.7 334.52L539.9 334.91L540.08 335.3L540.26 335.68L540.43 336.07L540.59 336.45L540.74 336.83L540.89 337.2L541.03 337.58L541.17 337.95L541.3 338.32L541.42 338.69L541.54 339.05L541.65 339.42L541.76 339.78L541.87 340.13L541.97 340.49L542.06 340.84L542.15 341.19L542.24 341.54L542.32 341.88L542.4 342.22L542.47 342.56L542.55 342.89L542.62 343.22L542.68 343.55L542.75 343.87L542.81 344.2L542.86 344.51L542.92 344.83L542.97 345.14L543.02 345.45L543.07 345.75L543.12 346.05L543.16 346.35L543.2 346.64L543.24 346.93L543.28 347.22L543.32 347.5L547.32 378.23" stroke="#ff00ff" stroke-width="0.9" stroke-opacity="0.75"/>
<path d="M347.64 281.61L351.64 281.88L360.43 282.46L368.82 283.04L376.84 283.62L384.49 284.2L391.81 284.77L398.79 285.34L405.45 285.9L411.82 286.47L417.9 287.03L423.71 287.58L429.25 288.14L434.55 288.69L439.6 289.24L444.43 289.78L449.05 290.32L453.45 290.86L457.66 291.4L461.68 291.93L465.52 292.46L469.18 292.99L472.68 293.52L476.03 294.04L479.22 294.56L482.27 295.07L485.19 295.58L487.97 296.09L490.63 296.6L493.17 297.1L495.6 297.61L497.92 298.1L500.14 298.6L502.25 299.09L504.28 299.58L506.21 300.07L508.06 300.55L509.83 301.04L511.51 301.51L513.13 301.99L514.67 302.46L516.14 302.93L517.55 303.4L518.9 303.87L520.19 304.33L521.42 304.79L522.6 305.25L523.72 305.7L524.8 306.16L525.83 306.61L526.82 307.05L527.76 307.5L528.66 307.94L529.52 308.38L530.35 308.82L531.14 309.25L531.9 309.69L532.62 310.12L533.31 310.55L533.97 310.97L534.61 311.4L535.22 311.82L535.8 312.24L536.35 312.65L536.89 313.07L537.39 313.48L537.88 313.88L538.35 314.29L538.79 314.69L539.22 315.09L539.63 315.49L540.02 315.89L540.39 316.28L540.75 316.67L541.09 317.06L541.42 317.44L541.73 317.82L542.03 318.2L542.32 318.57L542.59 318.94L542.85 319.31L543.1 319.67L543.34 320.03L543.56 320.39L543.78 320.74L543.99 321.09L544.19 321.44L544.37 321.78L544.56 322.12L544.73 322.45L544.89 322.78L545.05 323.11L545.2 323.43L545.34 323.75L545.48 324.07L545.61 324.38L545.73 324.69L545.85 324.99L545.96 325.29L546.07 325.59L546.17 325.88L546.27 326.17L546.36 326.45L546.45 326.73L546.54 327.01L546.62 327.28L546.69 327.55L546.77 327.81L546.84 328.07L546.9 328.33L546.97 328.58L547.03 328.83L547.09 329.08L547.14 329.32L547.2 329.55L547.25 329.79L547.29 330.02L547.34 330.24L547.38 330.46L547.43 330.68L547.46 330.89L551.46 352.37" stroke="#00ff00" stroke-width="0.9" stroke-opacity="0.75"/>
<path d="M347.55 283.01L351.55 283.27L360.33 283.86L368.72 284.44L376.74 285.02L384.39 285.59L391.69 286.16L398.67 286.73L405.33 287.3L411.69 287.86L417.77 288.42L423.57 288.98L429.11 289.53L434.4 290.08L439.45 290.63L444.27 291.17L448.88 291.71L453.28 292.25L457.48 292.79L461.49 293.32L465.32 293.85L468.98 294.38L472.47 294.9L475.81 295.42L478.99 295.94L482.04 296.45L484.94 296.96L487.72 297.47L490.37 297.97L492.9 298.48L495.31 298.98L497.62 299.47L499.83 299.96L501.93 300.45L503.94 300.94L505.86 301.43L507.7 301.91L509.45 302.38L511.12 302.86L512.72 303.33L514.25 303.8L515.71 304.27L517.1 304.73L518.43 305.19L519.7 305.65L520.92 306.1L522.08 306.55L523.19 307L524.25 307.44L525.26 307.89L526.23 308.32L527.15 308.76L528.03 309.19L528.88 309.62L529.68 310.05L530.45 310.48L531.19 310.9L531.89 311.32L532.57 311.73L533.21 312.14L533.82 312.55L534.41 312.96L534.97 313.36L535.5 313.76L536.02 314.16L536.51 314.56L536.97 314.95L537.42 315.34L537.85 315.72L538.25 316.11L538.64 316.49L539.02 316.86L539.37 317.24L539.71 317.61L540.04 317.97L540.35 318.34L540.64 318.7L540.93 319.05L541.2 319.41L541.46 319.76L541.7 320.11L541.94 320.45L542.16 320.79L542.38 321.13L542.58 321.46L542.78 321.79L542.97 322.12L543.14 322.45L543.31 322.77L543.48 323.08L543.63 323.4L543.78 323.71L543.92 324.01L544.06 324.32L544.19 324.61L544.31 324.91L544.43 325.2L544.54 325.49L544.65 325.78L544.75 326.06L544.85 326.34L544.94 326.61L545.03 326.88L545.11 327.15L545.2 327.41L545.27 327.67L545.35 327.93L545.42 328.18L545.48 328.43L545.55 328.68L545.61 328.92L545.67 329.16L545.72 329.39L545.78 329.63L545.83 329.85L545.88 330.08L545.92 330.3L545.97 330.52L546.01 330.73L546.05 330.94L546.09 331.15L550.09 352.62" stroke="#00ff00" stroke-width="0.9" stroke-opacity="0.85"/>
<path d="M347.45 284.41L351.45 284.67L360.24 285.25L368.63 285.84L376.63 286.41L384.28 286.99L391.58 287.56L398.55 288.13L405.21 288.69L411.57 289.25L417.64 289.81L423.43 290.37L428.97 290.92L434.25 291.47L439.3 292.02L444.11 292.56L448.71 293.1L453.1 293.64L457.3 294.18L461.3 294.71L465.12 295.24L468.77 295.76L472.26 296.28L475.59 296.8L478.76 297.32L481.8 297.83L484.69 298.34L487.46 298.85L490.1 299.35L492.62 299.85L495.02 300.35L497.32 300.84L499.51 301.33L501.61 301.82L503.61 302.3L505.51 302.78L507.34 303.26L509.07 303.73L510.73 304.2L512.32 304.67L513.83 305.14L515.27 305.6L516.65 306.05L517.97 306.51L519.22 306.96L520.42 307.41L521.56 307.85L522.66 308.29L523.7 308.73L524.69 309.16L525.64 309.59L526.54 310.02L527.41 310.45L528.23 310.87L529.02 311.28L529.77 311.7L530.48 312.11L531.17 312.51L531.82 312.92L532.44 313.32L533.03 313.71L533.6 314.1L534.14 314.49L534.66 314.88L535.15 315.26L535.62 315.64L536.06 316.01L536.49 316.39L536.9 316.75L537.29 317.12L537.66 317.48L538.01 317.84L538.35 318.19L538.67 318.54L538.98 318.89L539.27 319.24L539.55 319.58L539.82 319.91L540.08 320.25L540.32 320.58L540.55 320.91L540.78 321.23L540.99 321.55L541.19 321.87L541.38 322.19L541.57 322.5L541.74 322.81L541.91 323.11L542.07 323.41L542.23 323.71L542.37 324.01L542.51 324.3L542.65 324.59L542.78 324.88L542.9 325.16L543.01 325.44L543.13 325.72L543.23 325.99L543.33 326.26L543.43 326.53L543.52 326.79L543.61 327.05L543.7 327.31L543.78 327.57L543.86 327.82L543.93 328.07L544 328.31L544.07 328.55L544.13 328.79L544.19 329.03L544.25 329.26L544.31 329.49L544.36 329.71L544.41 329.94L544.46 330.15L544.51 330.37L544.55 330.58L544.59 330.79L544.64 331L544.67 331.2L544.71 331.4L548.71 352.88" stroke="#00ff00" stroke-width="0.9" stroke-opacity="0.85"/>
<path d="M347.36 285.8L351.36 286.07L360.14 286.65L368.53 287.23L376.53 287.81L384.17 288.38L391.47 288.95L398.44 289.52L405.09 290.09L411.44 290.65L417.51 291.21L423.3 291.76L428.83 292.32L434.1 292.86L439.14 293.41L443.95 293.95L448.55 294.49L452.93 295.03L457.12 295.56L461.11 296.09L464.93 296.62L468.57 297.15L472.05 297.67L475.37 298.18L478.54 298.7L481.56 299.21L484.45 299.72L487.2 300.22L489.83 300.72L492.34 301.22L494.74 301.72L497.02 302.21L499.2 302.69L501.28 303.18L503.27 303.66L505.17 304.14L506.97 304.61L508.7 305.08L510.35 305.55L511.92 306.01L513.41 306.47L514.84 306.93L516.2 307.38L517.5 307.83L518.74 308.27L519.92 308.72L521.05 309.15L522.12 309.59L523.15 310.02L524.12 310.44L525.05 310.87L525.94 311.28L526.78 311.7L527.59 312.11L528.35 312.51L529.08 312.92L529.78 313.32L530.44 313.71L531.07 314.1L531.67 314.49L532.25 314.87L532.79 315.25L533.31 315.62L533.81 315.99L534.28 316.36L534.73 316.72L535.15 317.08L535.56 317.43L535.95 317.78L536.32 318.13L536.67 318.47L537.01 318.81L537.33 319.15L537.63 319.48L537.92 319.81L538.2 320.13L538.46 320.46L538.72 320.77L538.96 321.09L539.19 321.4L539.41 321.71L539.61 322.01L539.81 322.32L540 322.61L540.19 322.91L540.36 323.2L540.52 323.49L540.68 323.78L540.83 324.06L540.98 324.34L541.12 324.62L541.25 324.9L541.37 325.17L541.49 325.44L541.61 325.71L541.72 325.97L541.82 326.23L541.92 326.49L542.02 326.75L542.11 327L542.2 327.25L542.28 327.5L542.36 327.74L542.44 327.98L542.52 328.22L542.59 328.46L542.65 328.69L542.72 328.92L542.78 329.15L542.84 329.37L542.89 329.6L542.95 329.82L543 330.03L543.05 330.24L543.09 330.45L543.14 330.66L543.18 330.87L543.22 331.07L543.26 331.27L543.3 331.46L543.34 331.66L547.34 353.14" stroke="#00ff00" stroke-width="0.9" stroke-opacity="0.75"/>
<path d="M347.5 250.91L351.5 251.27L360.29 252.05L368.67 252.82L376.69 253.58L384.33 254.31L391.64 255.04L398.61 255.75L405.27 256.45L411.63 257.14L417.7 257.81L423.5 258.48L429.04 259.13L434.32 259.78L439.37 260.41L444.19 261.04L448.8 261.66L453.19 262.27L457.39 262.88L461.4 263.48L465.22 264.07L468.88 264.66L472.37 265.25L475.7 265.83L478.88 266.41L481.92 266.99L484.82 267.57L487.59 268.14L490.23 268.72L492.76 269.29L495.17 269.87L497.47 270.45L499.67 271.03L501.77 271.61L503.77 272.2L505.69 272.79L507.52 273.38L509.26 273.98L510.93 274.59L512.52 275.2L514.04 275.82L515.49 276.45L516.88 277.08L518.2 277.71L519.46 278.35L520.67 279L521.82 279.65L522.92 280.31L523.97 280.97L524.98 281.63L525.93 282.29L526.85 282.96L527.72 283.64L528.55 284.31L529.35 284.99L530.11 285.67L530.84 286.35L531.53 287.03L532.19 287.71L532.82 288.4L533.43 289.08L534 289.77L534.55 290.45L535.08 291.14L535.58 291.82L536.06 292.5L536.52 293.18L536.96 293.86L537.37 294.54L537.77 295.22L538.15 295.89L538.51 296.56L538.86 297.23L539.19 297.9L539.51 298.56L539.81 299.22L540.1 299.87L540.37 300.53L540.64 301.17L540.89 301.82L541.13 302.46L541.36 303.09L541.58 303.72L541.78 304.35L541.98 304.96L542.17 305.58L542.36 306.19L542.53 306.79L542.69 307.39L542.85 307.98L543 308.56L543.15 309.14L543.29 309.71L543.42 310.27L543.54 310.82L543.66 311.37L543.78 311.91L543.89 312.44L543.99 312.97L544.09 313.48L544.19 313.99L544.28 314.49L544.36 314.98L544.45 315.46L544.53 315.93L544.6 316.39L544.67 316.84L544.74 317.28L544.81 317.71L544.87 318.13L544.93 318.53L544.99 318.93L545.04 319.32L545.09 319.69L545.14 320.06L545.19 320.41L545.24 320.75L545.28 321.07L545.32 321.39L545.36 321.69L545.4 321.98L549.4 352.58" stroke="#000" stroke-width="1.2"/>
<path d="M351.5 362.6L362.44 362.84L372.76 363.08L382.51 363.31L391.7 363.53L400.38 363.75L408.58 363.97L416.31 364.18L423.61 364.39L430.49 364.6L436.99 364.8L443.13 364.99L448.92 365.19L454.39 365.37L459.54 365.56L464.41 365.74L469.01 365.91L473.34 366.09L477.44 366.26L481.3 366.42L484.95 366.58L488.39 366.74L491.64 366.89L494.7 367.04L497.6 367.19L500.33 367.33L502.9 367.47L505.34 367.61L507.63 367.74L509.8 367.87L511.84 368L513.77 368.12L515.6 368.24L517.32 368.36L518.94 368.47L520.47 368.58L521.92 368.68L523.28 368.79L524.57 368.89L525.78 368.99L526.93 369.08L528.01 369.17L529.03 369.26L530 369.35L530.91 369.43L531.77 369.51L532.58 369.59L533.34 369.67L534.07 369.74L534.75 369.81L535.39 369.88L536 369.94L536.57 370L537.11 370.06L537.62 370.12L538.11 370.18L538.56 370.23L538.99 370.28L539.39 370.33L539.78 370.37L540.14 370.42L540.48 370.46L540.8 370.5L541.1 370.54L541.39 370.57L541.66 370.61L541.91 370.64L542.16 370.67L542.38 370.7L542.6 370.72L542.8 370.75L542.99 370.77L543.17 370.79L543.34 370.81L543.5 370.83L543.65 370.85L543.8 370.86L543.93 370.87L544.06 370.89L544.18 370.9L544.29 370.9L544.4 370.91L544.5 370.92L544.6 370.92L544.69 370.93L544.77 370.93L544.85 370.93L544.93 370.93L545 370.93L545.07 370.93L545.13 370.93L545.19 370.92L545.25 370.92L545.3 370.91L545.35 370.91L545.4 370.9L545.44 370.89L545.49 370.88L545.53 370.88L545.56 370.87L545.6 370.86L545.63 370.84L545.67 370.83L545.7 370.82L545.72 370.81L545.75 370.8L545.78 370.78L545.8 370.77L545.82 370.76L545.84 370.74L545.86 370.73L545.88 370.71L545.9 370.7L545.92 370.68L545.93 370.67L545.95 370.66L545.96 370.64L545.98 370.63L545.99 370.61L546 370.6" stroke="#f00" stroke-width="1.3" stroke-dasharray="3.7 3.3"/>
<path d="M352.3 308.8L353.57 309.93L354.85 310.6L356.12 311.03L357.39 311.35L358.67 311.6L359.94 311.79L361.21 311.94L362.49 312.07L363.76 312.19L365.03 312.3L366.3 312.39L367.58 312.47L368.85 312.54L370.12 312.6L371.4 312.65L372.67 312.69L373.94 312.73L375.22 312.77L376.49 312.81L377.76 312.84L379.04 312.87L380.31 312.9L381.58 312.92L382.86 312.95L384.13 312.97L385.4 313L386.68 313.02L387.95 313.05L389.22 313.08L390.49 313.1L391.77 313.13L393.04 313.16L394.31 313.19L395.59 313.21L396.86 313.24L398.13 313.26L399.41 313.29L400.68 313.31L401.95 313.34L403.23 313.36L404.5 313.38L405.77 313.41L407.05 313.43L408.32 313.46L409.59 313.48L410.87 313.51L412.14 313.53L413.41 313.56L414.68 313.58L415.96 313.6L417.23 313.62L418.5 313.65L419.78 313.67L421.05 313.69L422.32 313.72L423.6 313.74L424.87 313.77L426.14 313.79L427.42 313.82L428.69 313.85L429.96 313.88L431.24 313.92L432.51 313.96L433.78 314L435.06 314.05L436.33 314.1L437.6 314.16L438.87 314.21L440.15 314.26L441.42 314.32L442.69 314.37L443.97 314.41L445.24 314.45L446.51 314.49L447.79 314.52L449.06 314.54L450.33 314.57L451.61 314.59L452.88 314.62L454.15 314.64L455.43 314.66L456.7 314.68L457.97 314.7L459.24 314.72L460.52 314.74L461.79 314.76L463.06 314.77L464.34 314.79L465.61 314.81L466.88 314.82L468.16 314.84L469.43 314.85L470.7 314.87L471.98 314.89L473.25 314.9L474.52 314.92L475.8 314.93L477.07 314.95L478.34 314.97L479.62 314.98L480.89 315L482.16 315.02L483.43 315.04L484.71 315.06L485.98 315.08L487.25 315.1L488.53 315.12L489.8 315.14L491.07 315.17L492.35 315.19L493.62 315.21L494.89 315.23L496.17 315.26L497.44 315.28L498.71 315.31L499.99 315.33L501.26 315.36L502.53 315.38L503.81 315.41L505.08 315.44L506.35 315.47L507.62 315.5L508.9 315.54L510.17 315.57L511.44 315.61L512.72 315.64L513.99 315.68L515.26 315.72L516.54 315.76L517.81 315.8L519.08 315.85L520.36 315.9L521.63 315.95L522.9 316L524.18 316.05L525.45 316.1L526.72 316.16L528 316.22L529.27 316.29L530.54 316.36L531.81 316.44L533.09 316.52L534.36 316.61L535.63 316.7L536.91 316.79L538.18 316.89L539.45 316.99L540.73 317.09L542 317.2" stroke="#00f" stroke-width="1.15" stroke-dasharray="4 1.8 1 1.8"/>
</g>
<path d="M237.4 23.3H42.4V189.3H237.4" fill="none" stroke="#000" stroke-width="1.3"/>
<line x1="237.4" y1="22.7" x2="237.4" y2="189.9" stroke="#f00" stroke-width="1.3" />
<line x1="42.4" y1="186.94" x2="44.2" y2="186.94" stroke="#000" stroke-width="0.9" />
<line x1="42.4" y1="185.09" x2="44.2" y2="185.09" stroke="#000" stroke-width="0.9" />
<line x1="42.4" y1="183.48" x2="44.2" y2="183.48" stroke="#000" stroke-width="0.9" />
<line x1="42.4" y1="182.07" x2="44.2" y2="182.07" stroke="#000" stroke-width="0.9" />
<line x1="42.4" y1="180.8" x2="45.8" y2="180.8" stroke="#000" stroke-width="0.9" />
<line x1="42.4" y1="172.47" x2="44.2" y2="172.47" stroke="#000" stroke-width="0.9" />
<line x1="42.4" y1="167.59" x2="44.2" y2="167.59" stroke="#000" stroke-width="0.9" />
<line x1="42.4" y1="164.13" x2="44.2" y2="164.13" stroke="#000" stroke-width="0.9" />
<line x1="42.4" y1="161.45" x2="44.2" y2="161.45" stroke="#000" stroke-width="0.9" />
<line x1="42.4" y1="159.26" x2="44.2" y2="159.26" stroke="#000" stroke-width="0.9" />
<line x1="42.4" y1="157.41" x2="44.2" y2="157.41" stroke="#000" stroke-width="0.9" />
<line x1="42.4" y1="155.8" x2="44.2" y2="155.8" stroke="#000" stroke-width="0.9" />
<line x1="42.4" y1="154.39" x2="44.2" y2="154.39" stroke="#000" stroke-width="0.9" />
<line x1="42.4" y1="153.12" x2="45.8" y2="153.12" stroke="#000" stroke-width="0.9" />
<line x1="42.4" y1="144.79" x2="44.2" y2="144.79" stroke="#000" stroke-width="0.9" />
<line x1="42.4" y1="139.91" x2="44.2" y2="139.91" stroke="#000" stroke-width="0.9" />
<line x1="42.4" y1="136.45" x2="44.2" y2="136.45" stroke="#000" stroke-width="0.9" />
<line x1="42.4" y1="133.77" x2="44.2" y2="133.77" stroke="#000" stroke-width="0.9" />
<line x1="42.4" y1="131.58" x2="44.2" y2="131.58" stroke="#000" stroke-width="0.9" />
<line x1="42.4" y1="129.73" x2="44.2" y2="129.73" stroke="#000" stroke-width="0.9" />
<line x1="42.4" y1="128.12" x2="44.2" y2="128.12" stroke="#000" stroke-width="0.9" />
<line x1="42.4" y1="126.71" x2="44.2" y2="126.71" stroke="#000" stroke-width="0.9" />
<line x1="42.4" y1="125.44" x2="45.8" y2="125.44" stroke="#000" stroke-width="0.9" />
<line x1="42.4" y1="117.11" x2="44.2" y2="117.11" stroke="#000" stroke-width="0.9" />
<line x1="42.4" y1="112.23" x2="44.2" y2="112.23" stroke="#000" stroke-width="0.9" />
<line x1="42.4" y1="108.77" x2="44.2" y2="108.77" stroke="#000" stroke-width="0.9" />
<line x1="42.4" y1="106.09" x2="44.2" y2="106.09" stroke="#000" stroke-width="0.9" />
<line x1="42.4" y1="103.9" x2="44.2" y2="103.9" stroke="#000" stroke-width="0.9" />
<line x1="42.4" y1="102.05" x2="44.2" y2="102.05" stroke="#000" stroke-width="0.9" />
<line x1="42.4" y1="100.44" x2="44.2" y2="100.44" stroke="#000" stroke-width="0.9" />
<line x1="42.4" y1="99.03" x2="44.2" y2="99.03" stroke="#000" stroke-width="0.9" />
<line x1="42.4" y1="97.76" x2="45.8" y2="97.76" stroke="#000" stroke-width="0.9" />
<line x1="42.4" y1="89.43" x2="44.2" y2="89.43" stroke="#000" stroke-width="0.9" />
<line x1="42.4" y1="84.55" x2="44.2" y2="84.55" stroke="#000" stroke-width="0.9" />
<line x1="42.4" y1="81.09" x2="44.2" y2="81.09" stroke="#000" stroke-width="0.9" />
<line x1="42.4" y1="78.41" x2="44.2" y2="78.41" stroke="#000" stroke-width="0.9" />
<line x1="42.4" y1="76.22" x2="44.2" y2="76.22" stroke="#000" stroke-width="0.9" />
<line x1="42.4" y1="74.37" x2="44.2" y2="74.37" stroke="#000" stroke-width="0.9" />
<line x1="42.4" y1="72.76" x2="44.2" y2="72.76" stroke="#000" stroke-width="0.9" />
<line x1="42.4" y1="71.35" x2="44.2" y2="71.35" stroke="#000" stroke-width="0.9" />
<line x1="42.4" y1="70.08" x2="45.8" y2="70.08" stroke="#000" stroke-width="0.9" />
<line x1="42.4" y1="61.75" x2="44.2" y2="61.75" stroke="#000" stroke-width="0.9" />
<line x1="42.4" y1="56.87" x2="44.2" y2="56.87" stroke="#000" stroke-width="0.9" />
<line x1="42.4" y1="53.41" x2="44.2" y2="53.41" stroke="#000" stroke-width="0.9" />
<line x1="42.4" y1="50.73" x2="44.2" y2="50.73" stroke="#000" stroke-width="0.9" />
<line x1="42.4" y1="48.54" x2="44.2" y2="48.54" stroke="#000" stroke-width="0.9" />
<line x1="42.4" y1="46.69" x2="44.2" y2="46.69" stroke="#000" stroke-width="0.9" />
<line x1="42.4" y1="45.08" x2="44.2" y2="45.08" stroke="#000" stroke-width="0.9" />
<line x1="42.4" y1="43.67" x2="44.2" y2="43.67" stroke="#000" stroke-width="0.9" />
<line x1="42.4" y1="42.4" x2="45.8" y2="42.4" stroke="#000" stroke-width="0.9" />
<line x1="42.4" y1="34.07" x2="44.2" y2="34.07" stroke="#000" stroke-width="0.9" />
<line x1="42.4" y1="29.19" x2="44.2" y2="29.19" stroke="#000" stroke-width="0.9" />
<line x1="42.4" y1="25.73" x2="44.2" y2="25.73" stroke="#000" stroke-width="0.9" />
<line x1="237.4" y1="177.3" x2="234" y2="177.3" stroke="#f00" stroke-width="0.9" />
<text x="240.3" y="180.5" font-size="9.8" fill="#f00" text-anchor="start"  stroke="#f00" stroke-width="0.15">0</text>
<line x1="237.4" y1="165.43" x2="235.6" y2="165.43" stroke="#f00" stroke-width="0.9" />
<line x1="237.4" y1="153.55" x2="234" y2="153.55" stroke="#f00" stroke-width="0.9" />
<text x="240.3" y="156.75" font-size="9.8" fill="#f00" text-anchor="start"  stroke="#f00" stroke-width="0.15">5</text>
<line x1="237.4" y1="141.68" x2="235.6" y2="141.68" stroke="#f00" stroke-width="0.9" />
<line x1="237.4" y1="129.8" x2="234" y2="129.8" stroke="#f00" stroke-width="0.9" />
<text x="240.3" y="133" font-size="9.8" fill="#f00" text-anchor="start"  stroke="#f00" stroke-width="0.15">10</text>
<line x1="237.4" y1="117.92" x2="235.6" y2="117.92" stroke="#f00" stroke-width="0.9" />
<line x1="237.4" y1="106.05" x2="234" y2="106.05" stroke="#f00" stroke-width="0.9" />
<text x="240.3" y="109.25" font-size="9.8" fill="#f00" text-anchor="start"  stroke="#f00" stroke-width="0.15">15</text>
<line x1="237.4" y1="94.17" x2="235.6" y2="94.17" stroke="#f00" stroke-width="0.9" />
<line x1="237.4" y1="82.3" x2="234" y2="82.3" stroke="#f00" stroke-width="0.9" />
<text x="240.3" y="85.5" font-size="9.8" fill="#f00" text-anchor="start"  stroke="#f00" stroke-width="0.15">20</text>
<line x1="237.4" y1="70.42" x2="235.6" y2="70.42" stroke="#f00" stroke-width="0.9" />
<line x1="237.4" y1="58.55" x2="234" y2="58.55" stroke="#f00" stroke-width="0.9" />
<text x="240.3" y="61.75" font-size="9.8" fill="#f00" text-anchor="start"  stroke="#f00" stroke-width="0.15">25</text>
<line x1="237.4" y1="46.67" x2="235.6" y2="46.67" stroke="#f00" stroke-width="0.9" />
<line x1="237.4" y1="34.8" x2="234" y2="34.8" stroke="#f00" stroke-width="0.9" />
<text x="240.3" y="38" font-size="9.8" fill="#f00" text-anchor="start"  stroke="#f00" stroke-width="0.15">30</text>
<line x1="272.3" y1="22.7" x2="272.3" y2="189.3" stroke="#00f" stroke-width="1.1" />
<line x1="272.3" y1="188.8" x2="269.1" y2="188.8" stroke="#00f" stroke-width="0.9" />
<line x1="272.3" y1="172.18" x2="270.5" y2="172.18" stroke="#00f" stroke-width="0.9" />
<line x1="272.3" y1="162.46" x2="270.5" y2="162.46" stroke="#00f" stroke-width="0.9" />
<line x1="272.3" y1="155.57" x2="270.5" y2="155.57" stroke="#00f" stroke-width="0.9" />
<line x1="272.3" y1="150.22" x2="270.5" y2="150.22" stroke="#00f" stroke-width="0.9" />
<line x1="272.3" y1="145.85" x2="270.5" y2="145.85" stroke="#00f" stroke-width="0.9" />
<line x1="272.3" y1="142.15" x2="270.5" y2="142.15" stroke="#00f" stroke-width="0.9" />
<line x1="272.3" y1="138.95" x2="270.5" y2="138.95" stroke="#00f" stroke-width="0.9" />
<line x1="272.3" y1="136.13" x2="270.5" y2="136.13" stroke="#00f" stroke-width="0.9" />
<line x1="272.3" y1="133.6" x2="269.1" y2="133.6" stroke="#00f" stroke-width="0.9" />
<line x1="272.3" y1="116.98" x2="270.5" y2="116.98" stroke="#00f" stroke-width="0.9" />
<line x1="272.3" y1="107.26" x2="270.5" y2="107.26" stroke="#00f" stroke-width="0.9" />
<line x1="272.3" y1="100.37" x2="270.5" y2="100.37" stroke="#00f" stroke-width="0.9" />
<line x1="272.3" y1="95.02" x2="270.5" y2="95.02" stroke="#00f" stroke-width="0.9" />
<line x1="272.3" y1="90.65" x2="270.5" y2="90.65" stroke="#00f" stroke-width="0.9" />
<line x1="272.3" y1="86.95" x2="270.5" y2="86.95" stroke="#00f" stroke-width="0.9" />
<line x1="272.3" y1="83.75" x2="270.5" y2="83.75" stroke="#00f" stroke-width="0.9" />
<line x1="272.3" y1="80.93" x2="270.5" y2="80.93" stroke="#00f" stroke-width="0.9" />
<line x1="272.3" y1="78.4" x2="269.1" y2="78.4" stroke="#00f" stroke-width="0.9" />
<line x1="272.3" y1="61.78" x2="270.5" y2="61.78" stroke="#00f" stroke-width="0.9" />
<line x1="272.3" y1="52.06" x2="270.5" y2="52.06" stroke="#00f" stroke-width="0.9" />
<line x1="272.3" y1="45.17" x2="270.5" y2="45.17" stroke="#00f" stroke-width="0.9" />
<line x1="272.3" y1="39.82" x2="270.5" y2="39.82" stroke="#00f" stroke-width="0.9" />
<line x1="272.3" y1="35.45" x2="270.5" y2="35.45" stroke="#00f" stroke-width="0.9" />
<line x1="272.3" y1="31.75" x2="270.5" y2="31.75" stroke="#00f" stroke-width="0.9" />
<line x1="272.3" y1="28.55" x2="270.5" y2="28.55" stroke="#00f" stroke-width="0.9" />
<line x1="272.3" y1="25.73" x2="270.5" y2="25.73" stroke="#00f" stroke-width="0.9" />
<line x1="272.3" y1="23.2" x2="269.1" y2="23.2" stroke="#00f" stroke-width="0.9" />
<line x1="272.3" y1="23.2" x2="269.1" y2="23.2" stroke="#00f" stroke-width="0.9" />
<text x="277.7" y="192.4" font-size="9.8" fill="#00f" stroke="#00f" stroke-width="0.15">10<tspan font-size="6.2" dy="-3.9">-9</tspan></text>
<text x="277.7" y="137.2" font-size="9.8" fill="#00f" stroke="#00f" stroke-width="0.15">10<tspan font-size="6.2" dy="-3.9">-8</tspan></text>
<text x="277.7" y="82" font-size="9.8" fill="#00f" stroke="#00f" stroke-width="0.15">10<tspan font-size="6.2" dy="-3.9">-7</tspan></text>
<text x="277.7" y="26.8" font-size="9.8" fill="#00f" stroke="#00f" stroke-width="0.15">10<tspan font-size="6.2" dy="-3.9">-6</tspan></text>
<text x="38.8" y="184.76" font-size="11" fill="#000" text-anchor="end" stroke="#000" stroke-width="0.15">10<tspan font-size="7.5" dy="-4.4">-8</tspan></text>
<text x="38.8" y="157.08" font-size="11" fill="#000" text-anchor="end" stroke="#000" stroke-width="0.15">10<tspan font-size="7.5" dy="-4.4">-7</tspan></text>
<text x="38.8" y="129.4" font-size="11" fill="#000" text-anchor="end" stroke="#000" stroke-width="0.15">10<tspan font-size="7.5" dy="-4.4">-6</tspan></text>
<text x="38.8" y="101.72" font-size="11" fill="#000" text-anchor="end" stroke="#000" stroke-width="0.15">10<tspan font-size="7.5" dy="-4.4">-5</tspan></text>
<text x="38.8" y="74.04" font-size="11" fill="#000" text-anchor="end" stroke="#000" stroke-width="0.15">10<tspan font-size="7.5" dy="-4.4">-4</tspan></text>
<text x="38.8" y="46.36" font-size="11" fill="#000" text-anchor="end" stroke="#000" stroke-width="0.15">10<tspan font-size="7.5" dy="-4.4">-3</tspan></text>
<path d="M546.2 23.3H351.5V189.4H546.2" fill="none" stroke="#000" stroke-width="1.3"/>
<line x1="546.2" y1="22.7" x2="546.2" y2="190" stroke="#f00" stroke-width="1.3" />
<line x1="351.5" y1="186.36" x2="353.3" y2="186.36" stroke="#000" stroke-width="0.9" />
<line x1="351.5" y1="184.16" x2="353.3" y2="184.16" stroke="#000" stroke-width="0.9" />
<line x1="351.5" y1="182.3" x2="353.3" y2="182.3" stroke="#000" stroke-width="0.9" />
<line x1="351.5" y1="180.69" x2="353.3" y2="180.69" stroke="#000" stroke-width="0.9" />
<line x1="351.5" y1="179.27" x2="353.3" y2="179.27" stroke="#000" stroke-width="0.9" />
<line x1="351.5" y1="178" x2="354.9" y2="178" stroke="#000" stroke-width="0.9" />
<line x1="351.5" y1="169.64" x2="353.3" y2="169.64" stroke="#000" stroke-width="0.9" />
<line x1="351.5" y1="164.76" x2="353.3" y2="164.76" stroke="#000" stroke-width="0.9" />
<line x1="351.5" y1="161.29" x2="353.3" y2="161.29" stroke="#000" stroke-width="0.9" />
<line x1="351.5" y1="158.6" x2="353.3" y2="158.6" stroke="#000" stroke-width="0.9" />
<line x1="351.5" y1="156.4" x2="353.3" y2="156.4" stroke="#000" stroke-width="0.9" />
<line x1="351.5" y1="154.54" x2="353.3" y2="154.54" stroke="#000" stroke-width="0.9" />
<line x1="351.5" y1="152.93" x2="353.3" y2="152.93" stroke="#000" stroke-width="0.9" />
<line x1="351.5" y1="151.51" x2="353.3" y2="151.51" stroke="#000" stroke-width="0.9" />
<line x1="351.5" y1="150.24" x2="354.9" y2="150.24" stroke="#000" stroke-width="0.9" />
<line x1="351.5" y1="141.88" x2="353.3" y2="141.88" stroke="#000" stroke-width="0.9" />
<line x1="351.5" y1="137" x2="353.3" y2="137" stroke="#000" stroke-width="0.9" />
<line x1="351.5" y1="133.53" x2="353.3" y2="133.53" stroke="#000" stroke-width="0.9" />
<line x1="351.5" y1="130.84" x2="353.3" y2="130.84" stroke="#000" stroke-width="0.9" />
<line x1="351.5" y1="128.64" x2="353.3" y2="128.64" stroke="#000" stroke-width="0.9" />
<line x1="351.5" y1="126.78" x2="353.3" y2="126.78" stroke="#000" stroke-width="0.9" />
<line x1="351.5" y1="125.17" x2="353.3" y2="125.17" stroke="#000" stroke-width="0.9" />
<line x1="351.5" y1="123.75" x2="353.3" y2="123.75" stroke="#000" stroke-width="0.9" />
<line x1="351.5" y1="122.48" x2="354.9" y2="122.48" stroke="#000" stroke-width="0.9" />
<line x1="351.5" y1="114.12" x2="353.3" y2="114.12" stroke="#000" stroke-width="0.9" />
<line x1="351.5" y1="109.24" x2="353.3" y2="109.24" stroke="#000" stroke-width="0.9" />
<line x1="351.5" y1="105.77" x2="353.3" y2="105.77" stroke="#000" stroke-width="0.9" />
<line x1="351.5" y1="103.08" x2="353.3" y2="103.08" stroke="#000" stroke-width="0.9" />
<line x1="351.5" y1="100.88" x2="353.3" y2="100.88" stroke="#000" stroke-width="0.9" />
<line x1="351.5" y1="99.02" x2="353.3" y2="99.02" stroke="#000" stroke-width="0.9" />
<line x1="351.5" y1="97.41" x2="353.3" y2="97.41" stroke="#000" stroke-width="0.9" />
<line x1="351.5" y1="95.99" x2="353.3" y2="95.99" stroke="#000" stroke-width="0.9" />
<line x1="351.5" y1="94.72" x2="354.9" y2="94.72" stroke="#000" stroke-width="0.9" />
<line x1="351.5" y1="86.36" x2="353.3" y2="86.36" stroke="#000" stroke-width="0.9" />
<line x1="351.5" y1="81.48" x2="353.3" y2="81.48" stroke="#000" stroke-width="0.9" />
<line x1="351.5" y1="78.01" x2="353.3" y2="78.01" stroke="#000" stroke-width="0.9" />
<line x1="351.5" y1="75.32" x2="353.3" y2="75.32" stroke="#000" stroke-width="0.9" />
<line x1="351.5" y1="73.12" x2="353.3" y2="73.12" stroke="#000" stroke-width="0.9" />
<line x1="351.5" y1="71.26" x2="353.3" y2="71.26" stroke="#000" stroke-width="0.9" />
<line x1="351.5" y1="69.65" x2="353.3" y2="69.65" stroke="#000" stroke-width="0.9" />
<line x1="351.5" y1="68.23" x2="353.3" y2="68.23" stroke="#000" stroke-width="0.9" />
<line x1="351.5" y1="66.96" x2="354.9" y2="66.96" stroke="#000" stroke-width="0.9" />
<line x1="351.5" y1="58.6" x2="353.3" y2="58.6" stroke="#000" stroke-width="0.9" />
<line x1="351.5" y1="53.72" x2="353.3" y2="53.72" stroke="#000" stroke-width="0.9" />
<line x1="351.5" y1="50.25" x2="353.3" y2="50.25" stroke="#000" stroke-width="0.9" />
<line x1="351.5" y1="47.56" x2="353.3" y2="47.56" stroke="#000" stroke-width="0.9" />
<line x1="351.5" y1="45.36" x2="353.3" y2="45.36" stroke="#000" stroke-width="0.9" />
<line x1="351.5" y1="43.5" x2="353.3" y2="43.5" stroke="#000" stroke-width="0.9" />
<line x1="351.5" y1="41.89" x2="353.3" y2="41.89" stroke="#000" stroke-width="0.9" />
<line x1="351.5" y1="40.47" x2="353.3" y2="40.47" stroke="#000" stroke-width="0.9" />
<line x1="351.5" y1="39.2" x2="354.9" y2="39.2" stroke="#000" stroke-width="0.9" />
<line x1="351.5" y1="30.84" x2="353.3" y2="30.84" stroke="#000" stroke-width="0.9" />
<line x1="351.5" y1="25.96" x2="353.3" y2="25.96" stroke="#000" stroke-width="0.9" />
<line x1="546.2" y1="177.5" x2="542.8" y2="177.5" stroke="#f00" stroke-width="0.9" />
<text x="549.1" y="180.7" font-size="9.8" fill="#f00" text-anchor="start"  stroke="#f00" stroke-width="0.15">0</text>
<line x1="546.2" y1="165.6" x2="544.4" y2="165.6" stroke="#f00" stroke-width="0.9" />
<line x1="546.2" y1="153.7" x2="542.8" y2="153.7" stroke="#f00" stroke-width="0.9" />
<text x="549.1" y="156.9" font-size="9.8" fill="#f00" text-anchor="start"  stroke="#f00" stroke-width="0.15">5</text>
<line x1="546.2" y1="141.8" x2="544.4" y2="141.8" stroke="#f00" stroke-width="0.9" />
<line x1="546.2" y1="129.9" x2="542.8" y2="129.9" stroke="#f00" stroke-width="0.9" />
<text x="549.1" y="133.1" font-size="9.8" fill="#f00" text-anchor="start"  stroke="#f00" stroke-width="0.15">10</text>
<line x1="546.2" y1="118" x2="544.4" y2="118" stroke="#f00" stroke-width="0.9" />
<line x1="546.2" y1="106.1" x2="542.8" y2="106.1" stroke="#f00" stroke-width="0.9" />
<text x="549.1" y="109.3" font-size="9.8" fill="#f00" text-anchor="start"  stroke="#f00" stroke-width="0.15">15</text>
<line x1="546.2" y1="94.2" x2="544.4" y2="94.2" stroke="#f00" stroke-width="0.9" />
<line x1="546.2" y1="82.3" x2="542.8" y2="82.3" stroke="#f00" stroke-width="0.9" />
<text x="549.1" y="85.5" font-size="9.8" fill="#f00" text-anchor="start"  stroke="#f00" stroke-width="0.15">20</text>
<line x1="546.2" y1="70.4" x2="544.4" y2="70.4" stroke="#f00" stroke-width="0.9" />
<line x1="546.2" y1="58.5" x2="542.8" y2="58.5" stroke="#f00" stroke-width="0.9" />
<text x="549.1" y="61.7" font-size="9.8" fill="#f00" text-anchor="start"  stroke="#f00" stroke-width="0.15">25</text>
<line x1="546.2" y1="46.6" x2="544.4" y2="46.6" stroke="#f00" stroke-width="0.9" />
<line x1="546.2" y1="34.7" x2="542.8" y2="34.7" stroke="#f00" stroke-width="0.9" />
<text x="549.1" y="37.9" font-size="9.8" fill="#f00" text-anchor="start"  stroke="#f00" stroke-width="0.15">30</text>
<line x1="583.2" y1="22.6" x2="583.2" y2="189.4" stroke="#00f" stroke-width="1.1" />
<line x1="583.2" y1="188.9" x2="580" y2="188.9" stroke="#00f" stroke-width="0.9" />
<line x1="583.2" y1="172.26" x2="581.4" y2="172.26" stroke="#00f" stroke-width="0.9" />
<line x1="583.2" y1="162.53" x2="581.4" y2="162.53" stroke="#00f" stroke-width="0.9" />
<line x1="583.2" y1="155.63" x2="581.4" y2="155.63" stroke="#00f" stroke-width="0.9" />
<line x1="583.2" y1="150.27" x2="581.4" y2="150.27" stroke="#00f" stroke-width="0.9" />
<line x1="583.2" y1="145.89" x2="581.4" y2="145.89" stroke="#00f" stroke-width="0.9" />
<line x1="583.2" y1="142.19" x2="581.4" y2="142.19" stroke="#00f" stroke-width="0.9" />
<line x1="583.2" y1="138.99" x2="581.4" y2="138.99" stroke="#00f" stroke-width="0.9" />
<line x1="583.2" y1="136.16" x2="581.4" y2="136.16" stroke="#00f" stroke-width="0.9" />
<line x1="583.2" y1="133.63" x2="580" y2="133.63" stroke="#00f" stroke-width="0.9" />
<line x1="583.2" y1="117" x2="581.4" y2="117" stroke="#00f" stroke-width="0.9" />
<line x1="583.2" y1="107.26" x2="581.4" y2="107.26" stroke="#00f" stroke-width="0.9" />
<line x1="583.2" y1="100.36" x2="581.4" y2="100.36" stroke="#00f" stroke-width="0.9" />
<line x1="583.2" y1="95" x2="581.4" y2="95" stroke="#00f" stroke-width="0.9" />
<line x1="583.2" y1="90.63" x2="581.4" y2="90.63" stroke="#00f" stroke-width="0.9" />
<line x1="583.2" y1="86.93" x2="581.4" y2="86.93" stroke="#00f" stroke-width="0.9" />
<line x1="583.2" y1="83.72" x2="581.4" y2="83.72" stroke="#00f" stroke-width="0.9" />
<line x1="583.2" y1="80.9" x2="581.4" y2="80.9" stroke="#00f" stroke-width="0.9" />
<line x1="583.2" y1="78.37" x2="580" y2="78.37" stroke="#00f" stroke-width="0.9" />
<line x1="583.2" y1="61.73" x2="581.4" y2="61.73" stroke="#00f" stroke-width="0.9" />
<line x1="583.2" y1="52" x2="581.4" y2="52" stroke="#00f" stroke-width="0.9" />
<line x1="583.2" y1="45.09" x2="581.4" y2="45.09" stroke="#00f" stroke-width="0.9" />
<line x1="583.2" y1="39.74" x2="581.4" y2="39.74" stroke="#00f" stroke-width="0.9" />
<line x1="583.2" y1="35.36" x2="581.4" y2="35.36" stroke="#00f" stroke-width="0.9" />
<line x1="583.2" y1="31.66" x2="581.4" y2="31.66" stroke="#00f" stroke-width="0.9" />
<line x1="583.2" y1="28.46" x2="581.4" y2="28.46" stroke="#00f" stroke-width="0.9" />
<line x1="583.2" y1="25.63" x2="581.4" y2="25.63" stroke="#00f" stroke-width="0.9" />
<line x1="583.2" y1="23.1" x2="580" y2="23.1" stroke="#00f" stroke-width="0.9" />
<line x1="583.2" y1="23.1" x2="580" y2="23.1" stroke="#00f" stroke-width="0.9" />
<text x="588.6" y="192.5" font-size="9.8" fill="#00f" stroke="#00f" stroke-width="0.15">10<tspan font-size="6.2" dy="-3.9">-9</tspan></text>
<text x="588.6" y="137.23" font-size="9.8" fill="#00f" stroke="#00f" stroke-width="0.15">10<tspan font-size="6.2" dy="-3.9">-8</tspan></text>
<text x="588.6" y="81.97" font-size="9.8" fill="#00f" stroke="#00f" stroke-width="0.15">10<tspan font-size="6.2" dy="-3.9">-7</tspan></text>
<text x="588.6" y="26.7" font-size="9.8" fill="#00f" stroke="#00f" stroke-width="0.15">10<tspan font-size="6.2" dy="-3.9">-6</tspan></text>
<text x="347.9" y="181.38" font-size="9.4" fill="#000" text-anchor="end" stroke="#000" stroke-width="0.15">10<tspan font-size="7" dy="-3.76">-8</tspan></text>
<text x="347.9" y="153.62" font-size="9.4" fill="#000" text-anchor="end" stroke="#000" stroke-width="0.15">10<tspan font-size="7" dy="-3.76">-7</tspan></text>
<text x="347.9" y="125.86" font-size="9.4" fill="#000" text-anchor="end" stroke="#000" stroke-width="0.15">10<tspan font-size="7" dy="-3.76">-6</tspan></text>
<text x="347.9" y="98.1" font-size="9.4" fill="#000" text-anchor="end" stroke="#000" stroke-width="0.15">10<tspan font-size="7" dy="-3.76">-5</tspan></text>
<text x="347.9" y="70.34" font-size="9.4" fill="#000" text-anchor="end" stroke="#000" stroke-width="0.15">10<tspan font-size="7" dy="-3.76">-4</tspan></text>
<text x="347.9" y="42.58" font-size="9.4" fill="#000" text-anchor="end" stroke="#000" stroke-width="0.15">10<tspan font-size="7" dy="-3.76">-3</tspan></text>
<path d="M237.4 245.4H42.4V411.3H237.4" fill="none" stroke="#000" stroke-width="1.3"/>
<line x1="237.4" y1="244.8" x2="237.4" y2="411.9" stroke="#f00" stroke-width="1.3" />
<line x1="42.4" y1="408.7" x2="44.2" y2="408.7" stroke="#000" stroke-width="0.9" />
<line x1="42.4" y1="406.49" x2="44.2" y2="406.49" stroke="#000" stroke-width="0.9" />
<line x1="42.4" y1="404.62" x2="44.2" y2="404.62" stroke="#000" stroke-width="0.9" />
<line x1="42.4" y1="403" x2="44.2" y2="403" stroke="#000" stroke-width="0.9" />
<line x1="42.4" y1="401.58" x2="44.2" y2="401.58" stroke="#000" stroke-width="0.9" />
<line x1="42.4" y1="400.3" x2="45.8" y2="400.3" stroke="#000" stroke-width="0.9" />
<line x1="42.4" y1="391.9" x2="44.2" y2="391.9" stroke="#000" stroke-width="0.9" />
<line x1="42.4" y1="386.99" x2="44.2" y2="386.99" stroke="#000" stroke-width="0.9" />
<line x1="42.4" y1="383.5" x2="44.2" y2="383.5" stroke="#000" stroke-width="0.9" />
<line x1="42.4" y1="380.8" x2="44.2" y2="380.8" stroke="#000" stroke-width="0.9" />
<line x1="42.4" y1="378.59" x2="44.2" y2="378.59" stroke="#000" stroke-width="0.9" />
<line x1="42.4" y1="376.72" x2="44.2" y2="376.72" stroke="#000" stroke-width="0.9" />
<line x1="42.4" y1="375.1" x2="44.2" y2="375.1" stroke="#000" stroke-width="0.9" />
<line x1="42.4" y1="373.68" x2="44.2" y2="373.68" stroke="#000" stroke-width="0.9" />
<line x1="42.4" y1="372.4" x2="45.8" y2="372.4" stroke="#000" stroke-width="0.9" />
<line x1="42.4" y1="364" x2="44.2" y2="364" stroke="#000" stroke-width="0.9" />
<line x1="42.4" y1="359.09" x2="44.2" y2="359.09" stroke="#000" stroke-width="0.9" />
<line x1="42.4" y1="355.6" x2="44.2" y2="355.6" stroke="#000" stroke-width="0.9" />
<line x1="42.4" y1="352.9" x2="44.2" y2="352.9" stroke="#000" stroke-width="0.9" />
<line x1="42.4" y1="350.69" x2="44.2" y2="350.69" stroke="#000" stroke-width="0.9" />
<line x1="42.4" y1="348.82" x2="44.2" y2="348.82" stroke="#000" stroke-width="0.9" />
<line x1="42.4" y1="347.2" x2="44.2" y2="347.2" stroke="#000" stroke-width="0.9" />
<line x1="42.4" y1="345.78" x2="44.2" y2="345.78" stroke="#000" stroke-width="0.9" />
<line x1="42.4" y1="344.5" x2="45.8" y2="344.5" stroke="#000" stroke-width="0.9" />
<line x1="42.4" y1="336.1" x2="44.2" y2="336.1" stroke="#000" stroke-width="0.9" />
<line x1="42.4" y1="331.19" x2="44.2" y2="331.19" stroke="#000" stroke-width="0.9" />
<line x1="42.4" y1="327.7" x2="44.2" y2="327.7" stroke="#000" stroke-width="0.9" />
<line x1="42.4" y1="325" x2="44.2" y2="325" stroke="#000" stroke-width="0.9" />
<line x1="42.4" y1="322.79" x2="44.2" y2="322.79" stroke="#000" stroke-width="0.9" />
<line x1="42.4" y1="320.92" x2="44.2" y2="320.92" stroke="#000" stroke-width="0.9" />
<line x1="42.4" y1="319.3" x2="44.2" y2="319.3" stroke="#000" stroke-width="0.9" />
<line x1="42.4" y1="317.88" x2="44.2" y2="317.88" stroke="#000" stroke-width="0.9" />
<line x1="42.4" y1="316.6" x2="45.8" y2="316.6" stroke="#000" stroke-width="0.9" />
<line x1="42.4" y1="308.2" x2="44.2" y2="308.2" stroke="#000" stroke-width="0.9" />
<line x1="42.4" y1="303.29" x2="44.2" y2="303.29" stroke="#000" stroke-width="0.9" />
<line x1="42.4" y1="299.8" x2="44.2" y2="299.8" stroke="#000" stroke-width="0.9" />
<line x1="42.4" y1="297.1" x2="44.2" y2="297.1" stroke="#000" stroke-width="0.9" />
<line x1="42.4" y1="294.89" x2="44.2" y2="294.89" stroke="#000" stroke-width="0.9" />
<line x1="42.4" y1="293.02" x2="44.2" y2="293.02" stroke="#000" stroke-width="0.9" />
<line x1="42.4" y1="291.4" x2="44.2" y2="291.4" stroke="#000" stroke-width="0.9" />
<line x1="42.4" y1="289.98" x2="44.2" y2="289.98" stroke="#000" stroke-width="0.9" />
<line x1="42.4" y1="288.7" x2="45.8" y2="288.7" stroke="#000" stroke-width="0.9" />
<line x1="42.4" y1="280.3" x2="44.2" y2="280.3" stroke="#000" stroke-width="0.9" />
<line x1="42.4" y1="275.39" x2="44.2" y2="275.39" stroke="#000" stroke-width="0.9" />
<line x1="42.4" y1="271.9" x2="44.2" y2="271.9" stroke="#000" stroke-width="0.9" />
<line x1="42.4" y1="269.2" x2="44.2" y2="269.2" stroke="#000" stroke-width="0.9" />
<line x1="42.4" y1="266.99" x2="44.2" y2="266.99" stroke="#000" stroke-width="0.9" />
<line x1="42.4" y1="265.12" x2="44.2" y2="265.12" stroke="#000" stroke-width="0.9" />
<line x1="42.4" y1="263.5" x2="44.2" y2="263.5" stroke="#000" stroke-width="0.9" />
<line x1="42.4" y1="262.08" x2="44.2" y2="262.08" stroke="#000" stroke-width="0.9" />
<line x1="42.4" y1="260.8" x2="45.8" y2="260.8" stroke="#000" stroke-width="0.9" />
<line x1="42.4" y1="252.4" x2="44.2" y2="252.4" stroke="#000" stroke-width="0.9" />
<line x1="42.4" y1="247.49" x2="44.2" y2="247.49" stroke="#000" stroke-width="0.9" />
<line x1="237.4" y1="399.4" x2="234" y2="399.4" stroke="#f00" stroke-width="0.9" />
<text x="240.3" y="402.6" font-size="9.8" fill="#f00" text-anchor="start"  stroke="#f00" stroke-width="0.15">0</text>
<line x1="237.4" y1="387.52" x2="235.6" y2="387.52" stroke="#f00" stroke-width="0.9" />
<line x1="237.4" y1="375.65" x2="234" y2="375.65" stroke="#f00" stroke-width="0.9" />
<text x="240.3" y="378.85" font-size="9.8" fill="#f00" text-anchor="start"  stroke="#f00" stroke-width="0.15">5</text>
<line x1="237.4" y1="363.77" x2="235.6" y2="363.77" stroke="#f00" stroke-width="0.9" />
<line x1="237.4" y1="351.9" x2="234" y2="351.9" stroke="#f00" stroke-width="0.9" />
<text x="240.3" y="355.1" font-size="9.8" fill="#f00" text-anchor="start"  stroke="#f00" stroke-width="0.15">10</text>
<line x1="237.4" y1="340.02" x2="235.6" y2="340.02" stroke="#f00" stroke-width="0.9" />
<line x1="237.4" y1="328.15" x2="234" y2="328.15" stroke="#f00" stroke-width="0.9" />
<text x="240.3" y="331.35" font-size="9.8" fill="#f00" text-anchor="start"  stroke="#f00" stroke-width="0.15">15</text>
<line x1="237.4" y1="316.27" x2="235.6" y2="316.27" stroke="#f00" stroke-width="0.9" />
<line x1="237.4" y1="304.4" x2="234" y2="304.4" stroke="#f00" stroke-width="0.9" />
<text x="240.3" y="307.6" font-size="9.8" fill="#f00" text-anchor="start"  stroke="#f00" stroke-width="0.15">20</text>
<line x1="237.4" y1="292.52" x2="235.6" y2="292.52" stroke="#f00" stroke-width="0.9" />
<line x1="237.4" y1="280.65" x2="234" y2="280.65" stroke="#f00" stroke-width="0.9" />
<text x="240.3" y="283.85" font-size="9.8" fill="#f00" text-anchor="start"  stroke="#f00" stroke-width="0.15">25</text>
<line x1="237.4" y1="268.77" x2="235.6" y2="268.77" stroke="#f00" stroke-width="0.9" />
<line x1="237.4" y1="256.9" x2="234" y2="256.9" stroke="#f00" stroke-width="0.9" />
<text x="240.3" y="260.1" font-size="9.8" fill="#f00" text-anchor="start"  stroke="#f00" stroke-width="0.15">30</text>
<line x1="272.3" y1="244.7" x2="272.3" y2="411.3" stroke="#00f" stroke-width="1.1" />
<line x1="272.3" y1="410.8" x2="269.1" y2="410.8" stroke="#00f" stroke-width="0.9" />
<line x1="272.3" y1="394.18" x2="270.5" y2="394.18" stroke="#00f" stroke-width="0.9" />
<line x1="272.3" y1="384.46" x2="270.5" y2="384.46" stroke="#00f" stroke-width="0.9" />
<line x1="272.3" y1="377.57" x2="270.5" y2="377.57" stroke="#00f" stroke-width="0.9" />
<line x1="272.3" y1="372.22" x2="270.5" y2="372.22" stroke="#00f" stroke-width="0.9" />
<line x1="272.3" y1="367.85" x2="270.5" y2="367.85" stroke="#00f" stroke-width="0.9" />
<line x1="272.3" y1="364.15" x2="270.5" y2="364.15" stroke="#00f" stroke-width="0.9" />
<line x1="272.3" y1="360.95" x2="270.5" y2="360.95" stroke="#00f" stroke-width="0.9" />
<line x1="272.3" y1="358.13" x2="270.5" y2="358.13" stroke="#00f" stroke-width="0.9" />
<line x1="272.3" y1="355.6" x2="269.1" y2="355.6" stroke="#00f" stroke-width="0.9" />
<line x1="272.3" y1="338.98" x2="270.5" y2="338.98" stroke="#00f" stroke-width="0.9" />
<line x1="272.3" y1="329.26" x2="270.5" y2="329.26" stroke="#00f" stroke-width="0.9" />
<line x1="272.3" y1="322.37" x2="270.5" y2="322.37" stroke="#00f" stroke-width="0.9" />
<line x1="272.3" y1="317.02" x2="270.5" y2="317.02" stroke="#00f" stroke-width="0.9" />
<line x1="272.3" y1="312.65" x2="270.5" y2="312.65" stroke="#00f" stroke-width="0.9" />
<line x1="272.3" y1="308.95" x2="270.5" y2="308.95" stroke="#00f" stroke-width="0.9" />
<line x1="272.3" y1="305.75" x2="270.5" y2="305.75" stroke="#00f" stroke-width="0.9" />
<line x1="272.3" y1="302.93" x2="270.5" y2="302.93" stroke="#00f" stroke-width="0.9" />
<line x1="272.3" y1="300.4" x2="269.1" y2="300.4" stroke="#00f" stroke-width="0.9" />
<line x1="272.3" y1="283.78" x2="270.5" y2="283.78" stroke="#00f" stroke-width="0.9" />
<line x1="272.3" y1="274.06" x2="270.5" y2="274.06" stroke="#00f" stroke-width="0.9" />
<line x1="272.3" y1="267.17" x2="270.5" y2="267.17" stroke="#00f" stroke-width="0.9" />
<line x1="272.3" y1="261.82" x2="270.5" y2="261.82" stroke="#00f" stroke-width="0.9" />
<line x1="272.3" y1="257.45" x2="270.5" y2="257.45" stroke="#00f" stroke-width="0.9" />
<line x1="272.3" y1="253.75" x2="270.5" y2="253.75" stroke="#00f" stroke-width="0.9" />
<line x1="272.3" y1="250.55" x2="270.5" y2="250.55" stroke="#00f" stroke-width="0.9" />
<line x1="272.3" y1="247.73" x2="270.5" y2="247.73" stroke="#00f" stroke-width="0.9" />
<line x1="272.3" y1="245.2" x2="269.1" y2="245.2" stroke="#00f" stroke-width="0.9" />
<line x1="272.3" y1="245.2" x2="269.1" y2="245.2" stroke="#00f" stroke-width="0.9" />
<text x="277.7" y="414.4" font-size="9.8" fill="#00f" stroke="#00f" stroke-width="0.15">10<tspan font-size="6.2" dy="-3.9">-9</tspan></text>
<text x="277.7" y="359.2" font-size="9.8" fill="#00f" stroke="#00f" stroke-width="0.15">10<tspan font-size="6.2" dy="-3.9">-8</tspan></text>
<text x="277.7" y="304" font-size="9.8" fill="#00f" stroke="#00f" stroke-width="0.15">10<tspan font-size="6.2" dy="-3.9">-7</tspan></text>
<text x="277.7" y="248.8" font-size="9.8" fill="#00f" stroke="#00f" stroke-width="0.15">10<tspan font-size="6.2" dy="-3.9">-6</tspan></text>
<text x="38.8" y="403.76" font-size="9.6" fill="#000" text-anchor="end" stroke="#000" stroke-width="0.15">10<tspan font-size="7" dy="-3.84">-8</tspan></text>
<text x="38.8" y="375.86" font-size="9.6" fill="#000" text-anchor="end" stroke="#000" stroke-width="0.15">10<tspan font-size="7" dy="-3.84">-7</tspan></text>
<text x="38.8" y="347.96" font-size="9.6" fill="#000" text-anchor="end" stroke="#000" stroke-width="0.15">10<tspan font-size="7" dy="-3.84">-6</tspan></text>
<text x="38.8" y="320.06" font-size="9.6" fill="#000" text-anchor="end" stroke="#000" stroke-width="0.15">10<tspan font-size="7" dy="-3.84">-5</tspan></text>
<text x="38.8" y="292.16" font-size="9.6" fill="#000" text-anchor="end" stroke="#000" stroke-width="0.15">10<tspan font-size="7" dy="-3.84">-4</tspan></text>
<text x="38.8" y="264.26" font-size="9.6" fill="#000" text-anchor="end" stroke="#000" stroke-width="0.15">10<tspan font-size="7" dy="-3.84">-3</tspan></text>
<path d="M546.2 245.4H351.5V411.2H546.2" fill="none" stroke="#000" stroke-width="1.3"/>
<line x1="546.2" y1="244.8" x2="546.2" y2="411.8" stroke="#f00" stroke-width="1.3" />
<line x1="351.5" y1="409.15" x2="353.3" y2="409.15" stroke="#000" stroke-width="0.9" />
<line x1="351.5" y1="407.29" x2="353.3" y2="407.29" stroke="#000" stroke-width="0.9" />
<line x1="351.5" y1="405.68" x2="353.3" y2="405.68" stroke="#000" stroke-width="0.9" />
<line x1="351.5" y1="404.27" x2="353.3" y2="404.27" stroke="#000" stroke-width="0.9" />
<line x1="351.5" y1="403" x2="354.9" y2="403" stroke="#000" stroke-width="0.9" />
<line x1="351.5" y1="394.66" x2="353.3" y2="394.66" stroke="#000" stroke-width="0.9" />
<line x1="351.5" y1="389.78" x2="353.3" y2="389.78" stroke="#000" stroke-width="0.9" />
<line x1="351.5" y1="386.32" x2="353.3" y2="386.32" stroke="#000" stroke-width="0.9" />
<line x1="351.5" y1="383.64" x2="353.3" y2="383.64" stroke="#000" stroke-width="0.9" />
<line x1="351.5" y1="381.45" x2="353.3" y2="381.45" stroke="#000" stroke-width="0.9" />
<line x1="351.5" y1="379.59" x2="353.3" y2="379.59" stroke="#000" stroke-width="0.9" />
<line x1="351.5" y1="377.98" x2="353.3" y2="377.98" stroke="#000" stroke-width="0.9" />
<line x1="351.5" y1="376.57" x2="353.3" y2="376.57" stroke="#000" stroke-width="0.9" />
<line x1="351.5" y1="375.3" x2="354.9" y2="375.3" stroke="#000" stroke-width="0.9" />
<line x1="351.5" y1="366.96" x2="353.3" y2="366.96" stroke="#000" stroke-width="0.9" />
<line x1="351.5" y1="362.08" x2="353.3" y2="362.08" stroke="#000" stroke-width="0.9" />
<line x1="351.5" y1="358.62" x2="353.3" y2="358.62" stroke="#000" stroke-width="0.9" />
<line x1="351.5" y1="355.94" x2="353.3" y2="355.94" stroke="#000" stroke-width="0.9" />
<line x1="351.5" y1="353.75" x2="353.3" y2="353.75" stroke="#000" stroke-width="0.9" />
<line x1="351.5" y1="351.89" x2="353.3" y2="351.89" stroke="#000" stroke-width="0.9" />
<line x1="351.5" y1="350.28" x2="353.3" y2="350.28" stroke="#000" stroke-width="0.9" />
<line x1="351.5" y1="348.87" x2="353.3" y2="348.87" stroke="#000" stroke-width="0.9" />
<line x1="351.5" y1="347.6" x2="354.9" y2="347.6" stroke="#000" stroke-width="0.9" />
<line x1="351.5" y1="339.26" x2="353.3" y2="339.26" stroke="#000" stroke-width="0.9" />
<line x1="351.5" y1="334.38" x2="353.3" y2="334.38" stroke="#000" stroke-width="0.9" />
<line x1="351.5" y1="330.92" x2="353.3" y2="330.92" stroke="#000" stroke-width="0.9" />
<line x1="351.5" y1="328.24" x2="353.3" y2="328.24" stroke="#000" stroke-width="0.9" />
<line x1="351.5" y1="326.05" x2="353.3" y2="326.05" stroke="#000" stroke-width="0.9" />
<line x1="351.5" y1="324.19" x2="353.3" y2="324.19" stroke="#000" stroke-width="0.9" />
<line x1="351.5" y1="322.58" x2="353.3" y2="322.58" stroke="#000" stroke-width="0.9" />
<line x1="351.5" y1="321.17" x2="353.3" y2="321.17" stroke="#000" stroke-width="0.9" />
<line x1="351.5" y1="319.9" x2="354.9" y2="319.9" stroke="#000" stroke-width="0.9" />
<line x1="351.5" y1="311.56" x2="353.3" y2="311.56" stroke="#000" stroke-width="0.9" />
<line x1="351.5" y1="306.68" x2="353.3" y2="306.68" stroke="#000" stroke-width="0.9" />
<line x1="351.5" y1="303.22" x2="353.3" y2="303.22" stroke="#000" stroke-width="0.9" />
<line x1="351.5" y1="300.54" x2="353.3" y2="300.54" stroke="#000" stroke-width="0.9" />
<line x1="351.5" y1="298.35" x2="353.3" y2="298.35" stroke="#000" stroke-width="0.9" />
<line x1="351.5" y1="296.49" x2="353.3" y2="296.49" stroke="#000" stroke-width="0.9" />
<line x1="351.5" y1="294.88" x2="353.3" y2="294.88" stroke="#000" stroke-width="0.9" />
<line x1="351.5" y1="293.47" x2="353.3" y2="293.47" stroke="#000" stroke-width="0.9" />
<line x1="351.5" y1="292.2" x2="354.9" y2="292.2" stroke="#000" stroke-width="0.9" />
<line x1="351.5" y1="283.86" x2="353.3" y2="283.86" stroke="#000" stroke-width="0.9" />
<line x1="351.5" y1="278.98" x2="353.3" y2="278.98" stroke="#000" stroke-width="0.9" />
<line x1="351.5" y1="275.52" x2="353.3" y2="275.52" stroke="#000" stroke-width="0.9" />
<line x1="351.5" y1="272.84" x2="353.3" y2="272.84" stroke="#000" stroke-width="0.9" />
<line x1="351.5" y1="270.65" x2="353.3" y2="270.65" stroke="#000" stroke-width="0.9" />
<line x1="351.5" y1="268.79" x2="353.3" y2="268.79" stroke="#000" stroke-width="0.9" />
<line x1="351.5" y1="267.18" x2="353.3" y2="267.18" stroke="#000" stroke-width="0.9" />
<line x1="351.5" y1="265.77" x2="353.3" y2="265.77" stroke="#000" stroke-width="0.9" />
<line x1="351.5" y1="264.5" x2="354.9" y2="264.5" stroke="#000" stroke-width="0.9" />
<line x1="351.5" y1="256.16" x2="353.3" y2="256.16" stroke="#000" stroke-width="0.9" />
<line x1="351.5" y1="251.28" x2="353.3" y2="251.28" stroke="#000" stroke-width="0.9" />
<line x1="351.5" y1="247.82" x2="353.3" y2="247.82" stroke="#000" stroke-width="0.9" />
<line x1="546.2" y1="399.4" x2="542.8" y2="399.4" stroke="#f00" stroke-width="0.9" />
<text x="549.1" y="402.6" font-size="9.8" fill="#f00" text-anchor="start"  stroke="#f00" stroke-width="0.15">0</text>
<line x1="546.2" y1="387.52" x2="544.4" y2="387.52" stroke="#f00" stroke-width="0.9" />
<line x1="546.2" y1="375.65" x2="542.8" y2="375.65" stroke="#f00" stroke-width="0.9" />
<text x="549.1" y="378.85" font-size="9.8" fill="#f00" text-anchor="start"  stroke="#f00" stroke-width="0.15">5</text>
<line x1="546.2" y1="363.77" x2="544.4" y2="363.77" stroke="#f00" stroke-width="0.9" />
<line x1="546.2" y1="351.9" x2="542.8" y2="351.9" stroke="#f00" stroke-width="0.9" />
<text x="549.1" y="355.1" font-size="9.8" fill="#f00" text-anchor="start"  stroke="#f00" stroke-width="0.15">10</text>
<line x1="546.2" y1="340.02" x2="544.4" y2="340.02" stroke="#f00" stroke-width="0.9" />
<line x1="546.2" y1="328.15" x2="542.8" y2="328.15" stroke="#f00" stroke-width="0.9" />
<text x="549.1" y="331.35" font-size="9.8" fill="#f00" text-anchor="start"  stroke="#f00" stroke-width="0.15">15</text>
<line x1="546.2" y1="316.27" x2="544.4" y2="316.27" stroke="#f00" stroke-width="0.9" />
<line x1="546.2" y1="304.4" x2="542.8" y2="304.4" stroke="#f00" stroke-width="0.9" />
<text x="549.1" y="307.6" font-size="9.8" fill="#f00" text-anchor="start"  stroke="#f00" stroke-width="0.15">20</text>
<line x1="546.2" y1="292.52" x2="544.4" y2="292.52" stroke="#f00" stroke-width="0.9" />
<line x1="546.2" y1="280.65" x2="542.8" y2="280.65" stroke="#f00" stroke-width="0.9" />
<text x="549.1" y="283.85" font-size="9.8" fill="#f00" text-anchor="start"  stroke="#f00" stroke-width="0.15">25</text>
<line x1="546.2" y1="268.77" x2="544.4" y2="268.77" stroke="#f00" stroke-width="0.9" />
<line x1="546.2" y1="256.9" x2="542.8" y2="256.9" stroke="#f00" stroke-width="0.9" />
<text x="549.1" y="260.1" font-size="9.8" fill="#f00" text-anchor="start"  stroke="#f00" stroke-width="0.15">30</text>
<line x1="581.4" y1="244.6" x2="581.4" y2="411.3" stroke="#00f" stroke-width="1.1" />
<line x1="581.4" y1="410.8" x2="578.2" y2="410.8" stroke="#00f" stroke-width="0.9" />
<line x1="581.4" y1="394.17" x2="579.6" y2="394.17" stroke="#00f" stroke-width="0.9" />
<line x1="581.4" y1="384.45" x2="579.6" y2="384.45" stroke="#00f" stroke-width="0.9" />
<line x1="581.4" y1="377.55" x2="579.6" y2="377.55" stroke="#00f" stroke-width="0.9" />
<line x1="581.4" y1="372.19" x2="579.6" y2="372.19" stroke="#00f" stroke-width="0.9" />
<line x1="581.4" y1="367.82" x2="579.6" y2="367.82" stroke="#00f" stroke-width="0.9" />
<line x1="581.4" y1="364.12" x2="579.6" y2="364.12" stroke="#00f" stroke-width="0.9" />
<line x1="581.4" y1="360.92" x2="579.6" y2="360.92" stroke="#00f" stroke-width="0.9" />
<line x1="581.4" y1="358.09" x2="579.6" y2="358.09" stroke="#00f" stroke-width="0.9" />
<line x1="581.4" y1="355.57" x2="578.2" y2="355.57" stroke="#00f" stroke-width="0.9" />
<line x1="581.4" y1="338.94" x2="579.6" y2="338.94" stroke="#00f" stroke-width="0.9" />
<line x1="581.4" y1="329.21" x2="579.6" y2="329.21" stroke="#00f" stroke-width="0.9" />
<line x1="581.4" y1="322.31" x2="579.6" y2="322.31" stroke="#00f" stroke-width="0.9" />
<line x1="581.4" y1="316.96" x2="579.6" y2="316.96" stroke="#00f" stroke-width="0.9" />
<line x1="581.4" y1="312.59" x2="579.6" y2="312.59" stroke="#00f" stroke-width="0.9" />
<line x1="581.4" y1="308.89" x2="579.6" y2="308.89" stroke="#00f" stroke-width="0.9" />
<line x1="581.4" y1="305.69" x2="579.6" y2="305.69" stroke="#00f" stroke-width="0.9" />
<line x1="581.4" y1="302.86" x2="579.6" y2="302.86" stroke="#00f" stroke-width="0.9" />
<line x1="581.4" y1="300.33" x2="578.2" y2="300.33" stroke="#00f" stroke-width="0.9" />
<line x1="581.4" y1="283.71" x2="579.6" y2="283.71" stroke="#00f" stroke-width="0.9" />
<line x1="581.4" y1="273.98" x2="579.6" y2="273.98" stroke="#00f" stroke-width="0.9" />
<line x1="581.4" y1="267.08" x2="579.6" y2="267.08" stroke="#00f" stroke-width="0.9" />
<line x1="581.4" y1="261.73" x2="579.6" y2="261.73" stroke="#00f" stroke-width="0.9" />
<line x1="581.4" y1="257.35" x2="579.6" y2="257.35" stroke="#00f" stroke-width="0.9" />
<line x1="581.4" y1="253.66" x2="579.6" y2="253.66" stroke="#00f" stroke-width="0.9" />
<line x1="581.4" y1="250.45" x2="579.6" y2="250.45" stroke="#00f" stroke-width="0.9" />
<line x1="581.4" y1="247.63" x2="579.6" y2="247.63" stroke="#00f" stroke-width="0.9" />
<line x1="581.4" y1="245.1" x2="578.2" y2="245.1" stroke="#00f" stroke-width="0.9" />
<line x1="581.4" y1="245.1" x2="578.2" y2="245.1" stroke="#00f" stroke-width="0.9" />
<text x="586.8" y="414.4" font-size="9.8" fill="#00f" stroke="#00f" stroke-width="0.15">10<tspan font-size="6.2" dy="-3.9">-9</tspan></text>
<text x="586.8" y="359.17" font-size="9.8" fill="#00f" stroke="#00f" stroke-width="0.15">10<tspan font-size="6.2" dy="-3.9">-8</tspan></text>
<text x="586.8" y="303.93" font-size="9.8" fill="#00f" stroke="#00f" stroke-width="0.15">10<tspan font-size="6.2" dy="-3.9">-7</tspan></text>
<text x="586.8" y="248.7" font-size="9.8" fill="#00f" stroke="#00f" stroke-width="0.15">10<tspan font-size="6.2" dy="-3.9">-6</tspan></text>
<text x="347.9" y="406.38" font-size="9.4" fill="#000" text-anchor="end" stroke="#000" stroke-width="0.15">10<tspan font-size="7" dy="-3.76">-8</tspan></text>
<text x="347.9" y="378.68" font-size="9.4" fill="#000" text-anchor="end" stroke="#000" stroke-width="0.15">10<tspan font-size="7" dy="-3.76">-7</tspan></text>
<text x="347.9" y="350.98" font-size="9.4" fill="#000" text-anchor="end" stroke="#000" stroke-width="0.15">10<tspan font-size="7" dy="-3.76">-6</tspan></text>
<text x="347.9" y="323.28" font-size="9.4" fill="#000" text-anchor="end" stroke="#000" stroke-width="0.15">10<tspan font-size="7" dy="-3.76">-5</tspan></text>
<text x="347.9" y="295.58" font-size="9.4" fill="#000" text-anchor="end" stroke="#000" stroke-width="0.15">10<tspan font-size="7" dy="-3.76">-4</tspan></text>
<text x="347.9" y="267.88" font-size="9.4" fill="#000" text-anchor="end" stroke="#000" stroke-width="0.15">10<tspan font-size="7" dy="-3.76">-3</tspan></text>
<line x1="42.4" y1="189.3" x2="42.4" y2="185.9" stroke="#000" stroke-width="0.9" />
<line x1="70.26" y1="189.3" x2="70.26" y2="185.9" stroke="#000" stroke-width="0.9" />
<line x1="98.11" y1="189.3" x2="98.11" y2="185.9" stroke="#000" stroke-width="0.9" />
<line x1="125.97" y1="189.3" x2="125.97" y2="185.9" stroke="#000" stroke-width="0.9" />
<line x1="153.83" y1="189.3" x2="153.83" y2="185.9" stroke="#000" stroke-width="0.9" />
<line x1="181.69" y1="189.3" x2="181.69" y2="185.9" stroke="#000" stroke-width="0.9" />
<line x1="209.54" y1="189.3" x2="209.54" y2="185.9" stroke="#000" stroke-width="0.9" />
<line x1="237.4" y1="189.3" x2="237.4" y2="185.9" stroke="#000" stroke-width="0.9" />
<line x1="56.33" y1="189.3" x2="56.33" y2="187.5" stroke="#000" stroke-width="0.9" />
<line x1="84.19" y1="189.3" x2="84.19" y2="187.5" stroke="#000" stroke-width="0.9" />
<line x1="112.04" y1="189.3" x2="112.04" y2="187.5" stroke="#000" stroke-width="0.9" />
<line x1="139.9" y1="189.3" x2="139.9" y2="187.5" stroke="#000" stroke-width="0.9" />
<line x1="167.76" y1="189.3" x2="167.76" y2="187.5" stroke="#000" stroke-width="0.9" />
<line x1="195.61" y1="189.3" x2="195.61" y2="187.5" stroke="#000" stroke-width="0.9" />
<line x1="223.47" y1="189.3" x2="223.47" y2="187.5" stroke="#000" stroke-width="0.9" />
<text x="42.4" y="199.8" font-size="9" fill="#000" text-anchor="middle"  stroke="#000" stroke-width="0.15">300</text>
<text x="70.26" y="199.8" font-size="9" fill="#000" text-anchor="middle"  stroke="#000" stroke-width="0.15">400</text>
<text x="98.11" y="199.8" font-size="9" fill="#000" text-anchor="middle"  stroke="#000" stroke-width="0.15">500</text>
<text x="125.97" y="199.8" font-size="9" fill="#000" text-anchor="middle"  stroke="#000" stroke-width="0.15">600</text>
<text x="153.83" y="199.8" font-size="9" fill="#000" text-anchor="middle"  stroke="#000" stroke-width="0.15">700</text>
<text x="181.69" y="199.8" font-size="9" fill="#000" text-anchor="middle"  stroke="#000" stroke-width="0.15">800</text>
<text x="209.54" y="199.8" font-size="9" fill="#000" text-anchor="middle"  stroke="#000" stroke-width="0.15">900</text>
<text x="237.4" y="199.8" font-size="9" fill="#000" text-anchor="middle"  stroke="#000" stroke-width="0.15">1000</text>
<line x1="64.07" y1="411.3" x2="64.07" y2="407.9" stroke="#000" stroke-width="0.9" />
<line x1="107.4" y1="411.3" x2="107.4" y2="407.9" stroke="#000" stroke-width="0.9" />
<line x1="150.73" y1="411.3" x2="150.73" y2="407.9" stroke="#000" stroke-width="0.9" />
<line x1="194.07" y1="411.3" x2="194.07" y2="407.9" stroke="#000" stroke-width="0.9" />
<line x1="237.4" y1="411.3" x2="237.4" y2="407.9" stroke="#000" stroke-width="0.9" />
<line x1="42.4" y1="411.3" x2="42.4" y2="409.5" stroke="#000" stroke-width="0.9" />
<line x1="85.73" y1="411.3" x2="85.73" y2="409.5" stroke="#000" stroke-width="0.9" />
<line x1="129.07" y1="411.3" x2="129.07" y2="409.5" stroke="#000" stroke-width="0.9" />
<line x1="172.4" y1="411.3" x2="172.4" y2="409.5" stroke="#000" stroke-width="0.9" />
<line x1="215.73" y1="411.3" x2="215.73" y2="409.5" stroke="#000" stroke-width="0.9" />
<text x="64.07" y="421.8" font-size="9" fill="#000" text-anchor="middle"  stroke="#000" stroke-width="0.15">1</text>
<text x="107.4" y="421.8" font-size="9" fill="#000" text-anchor="middle"  stroke="#000" stroke-width="0.15">2</text>
<text x="150.73" y="421.8" font-size="9" fill="#000" text-anchor="middle"  stroke="#000" stroke-width="0.15">3</text>
<text x="194.07" y="421.8" font-size="9" fill="#000" text-anchor="middle"  stroke="#000" stroke-width="0.15">4</text>
<text x="237.4" y="421.8" font-size="9" fill="#000" text-anchor="middle"  stroke="#000" stroke-width="0.15">5</text>
<line x1="365.92" y1="411.2" x2="365.92" y2="407.8" stroke="#000" stroke-width="0.9" />
<line x1="401.98" y1="411.2" x2="401.98" y2="407.8" stroke="#000" stroke-width="0.9" />
<line x1="438.03" y1="411.2" x2="438.03" y2="407.8" stroke="#000" stroke-width="0.9" />
<line x1="474.09" y1="411.2" x2="474.09" y2="407.8" stroke="#000" stroke-width="0.9" />
<line x1="510.14" y1="411.2" x2="510.14" y2="407.8" stroke="#000" stroke-width="0.9" />
<line x1="546.2" y1="411.2" x2="546.2" y2="407.8" stroke="#000" stroke-width="0.9" />
<line x1="347.89" y1="411.2" x2="347.89" y2="409.4" stroke="#000" stroke-width="0.9" />
<line x1="383.95" y1="411.2" x2="383.95" y2="409.4" stroke="#000" stroke-width="0.9" />
<line x1="420.01" y1="411.2" x2="420.01" y2="409.4" stroke="#000" stroke-width="0.9" />
<line x1="456.06" y1="411.2" x2="456.06" y2="409.4" stroke="#000" stroke-width="0.9" />
<line x1="492.12" y1="411.2" x2="492.12" y2="409.4" stroke="#000" stroke-width="0.9" />
<line x1="528.17" y1="411.2" x2="528.17" y2="409.4" stroke="#000" stroke-width="0.9" />
<text x="365.92" y="421.7" font-size="9" fill="#000" text-anchor="middle"  stroke="#000" stroke-width="0.15">25</text>
<text x="401.98" y="421.7" font-size="9" fill="#000" text-anchor="middle"  stroke="#000" stroke-width="0.15">20</text>
<text x="438.03" y="421.7" font-size="9" fill="#000" text-anchor="middle"  stroke="#000" stroke-width="0.15">15</text>
<text x="474.09" y="421.7" font-size="9" fill="#000" text-anchor="middle"  stroke="#000" stroke-width="0.15">10</text>
<text x="510.14" y="421.7" font-size="9" fill="#000" text-anchor="middle"  stroke="#000" stroke-width="0.15">5</text>
<text x="546.2" y="421.7" font-size="9" fill="#000" text-anchor="middle"  stroke="#000" stroke-width="0.15">0</text>
<line x1="351.5" y1="189.4" x2="351.5" y2="186" stroke="#000" stroke-width="0.9" />
<text x="352.7" y="200.9" font-size="9.4" text-anchor="middle" stroke="#000" stroke-width="0.15">10<tspan font-size="6.7" dy="-4">17</tspan></text>
<line x1="363.22" y1="189.4" x2="363.22" y2="187.6" stroke="#000" stroke-width="0.9" />
<line x1="370.08" y1="189.4" x2="370.08" y2="187.6" stroke="#000" stroke-width="0.9" />
<line x1="374.94" y1="189.4" x2="374.94" y2="187.6" stroke="#000" stroke-width="0.9" />
<line x1="378.72" y1="189.4" x2="378.72" y2="187.6" stroke="#000" stroke-width="0.9" />
<line x1="381.8" y1="189.4" x2="381.8" y2="187.6" stroke="#000" stroke-width="0.9" />
<line x1="384.41" y1="189.4" x2="384.41" y2="187.6" stroke="#000" stroke-width="0.9" />
<line x1="386.67" y1="189.4" x2="386.67" y2="187.6" stroke="#000" stroke-width="0.9" />
<line x1="388.66" y1="189.4" x2="388.66" y2="187.6" stroke="#000" stroke-width="0.9" />
<line x1="390.44" y1="189.4" x2="390.44" y2="186" stroke="#000" stroke-width="0.9" />
<text x="391.64" y="200.9" font-size="9.4" text-anchor="middle" stroke="#000" stroke-width="0.15">10<tspan font-size="6.7" dy="-4">18</tspan></text>
<line x1="402.16" y1="189.4" x2="402.16" y2="187.6" stroke="#000" stroke-width="0.9" />
<line x1="409.02" y1="189.4" x2="409.02" y2="187.6" stroke="#000" stroke-width="0.9" />
<line x1="413.88" y1="189.4" x2="413.88" y2="187.6" stroke="#000" stroke-width="0.9" />
<line x1="417.66" y1="189.4" x2="417.66" y2="187.6" stroke="#000" stroke-width="0.9" />
<line x1="420.74" y1="189.4" x2="420.74" y2="187.6" stroke="#000" stroke-width="0.9" />
<line x1="423.35" y1="189.4" x2="423.35" y2="187.6" stroke="#000" stroke-width="0.9" />
<line x1="425.61" y1="189.4" x2="425.61" y2="187.6" stroke="#000" stroke-width="0.9" />
<line x1="427.6" y1="189.4" x2="427.6" y2="187.6" stroke="#000" stroke-width="0.9" />
<line x1="429.38" y1="189.4" x2="429.38" y2="186" stroke="#000" stroke-width="0.9" />
<text x="430.58" y="200.9" font-size="9.4" text-anchor="middle" stroke="#000" stroke-width="0.15">10<tspan font-size="6.7" dy="-4">19</tspan></text>
<line x1="441.1" y1="189.4" x2="441.1" y2="187.6" stroke="#000" stroke-width="0.9" />
<line x1="447.96" y1="189.4" x2="447.96" y2="187.6" stroke="#000" stroke-width="0.9" />
<line x1="452.82" y1="189.4" x2="452.82" y2="187.6" stroke="#000" stroke-width="0.9" />
<line x1="456.6" y1="189.4" x2="456.6" y2="187.6" stroke="#000" stroke-width="0.9" />
<line x1="459.68" y1="189.4" x2="459.68" y2="187.6" stroke="#000" stroke-width="0.9" />
<line x1="462.29" y1="189.4" x2="462.29" y2="187.6" stroke="#000" stroke-width="0.9" />
<line x1="464.55" y1="189.4" x2="464.55" y2="187.6" stroke="#000" stroke-width="0.9" />
<line x1="466.54" y1="189.4" x2="466.54" y2="187.6" stroke="#000" stroke-width="0.9" />
<line x1="468.32" y1="189.4" x2="468.32" y2="186" stroke="#000" stroke-width="0.9" />
<text x="469.52" y="200.9" font-size="9.4" text-anchor="middle" stroke="#000" stroke-width="0.15">10<tspan font-size="6.7" dy="-4">20</tspan></text>
<line x1="480.04" y1="189.4" x2="480.04" y2="187.6" stroke="#000" stroke-width="0.9" />
<line x1="486.9" y1="189.4" x2="486.9" y2="187.6" stroke="#000" stroke-width="0.9" />
<line x1="491.76" y1="189.4" x2="491.76" y2="187.6" stroke="#000" stroke-width="0.9" />
<line x1="495.54" y1="189.4" x2="495.54" y2="187.6" stroke="#000" stroke-width="0.9" />
<line x1="498.62" y1="189.4" x2="498.62" y2="187.6" stroke="#000" stroke-width="0.9" />
<line x1="501.23" y1="189.4" x2="501.23" y2="187.6" stroke="#000" stroke-width="0.9" />
<line x1="503.49" y1="189.4" x2="503.49" y2="187.6" stroke="#000" stroke-width="0.9" />
<line x1="505.48" y1="189.4" x2="505.48" y2="187.6" stroke="#000" stroke-width="0.9" />
<line x1="507.26" y1="189.4" x2="507.26" y2="186" stroke="#000" stroke-width="0.9" />
<text x="508.46" y="200.9" font-size="9.4" text-anchor="middle" stroke="#000" stroke-width="0.15">10<tspan font-size="6.7" dy="-4">21</tspan></text>
<line x1="518.98" y1="189.4" x2="518.98" y2="187.6" stroke="#000" stroke-width="0.9" />
<line x1="525.84" y1="189.4" x2="525.84" y2="187.6" stroke="#000" stroke-width="0.9" />
<line x1="530.7" y1="189.4" x2="530.7" y2="187.6" stroke="#000" stroke-width="0.9" />
<line x1="534.48" y1="189.4" x2="534.48" y2="187.6" stroke="#000" stroke-width="0.9" />
<line x1="537.56" y1="189.4" x2="537.56" y2="187.6" stroke="#000" stroke-width="0.9" />
<line x1="540.17" y1="189.4" x2="540.17" y2="187.6" stroke="#000" stroke-width="0.9" />
<line x1="542.43" y1="189.4" x2="542.43" y2="187.6" stroke="#000" stroke-width="0.9" />
<line x1="544.42" y1="189.4" x2="544.42" y2="187.6" stroke="#000" stroke-width="0.9" />
<line x1="546.2" y1="189.4" x2="546.2" y2="186" stroke="#000" stroke-width="0.9" />
<text x="547.4" y="200.9" font-size="9.4" text-anchor="middle" stroke="#000" stroke-width="0.15">10<tspan font-size="6.7" dy="-4">22</tspan></text>
<g transform="rotate(-90)"><text x="-172.09" y="15.6" font-size="14.5" fill="#000" stroke="#000">Energy influx (J s</text><text x="-59.72" y="10.7" font-size="14.5" fill="#000" stroke="#000">−</text><text x="-50.99" y="9.7" font-size="10.4" fill="#000" stroke="#000" stroke-width="0.15">1</text><text x="-43.98" y="15.6" font-size="14.5" fill="#000" stroke="#000">)</text></g>
<g transform="rotate(-90)"><text x="-172.09" y="327.9" font-size="14.5" fill="#000" stroke="#000">Energy influx (J s</text><text x="-59.72" y="323" font-size="14.5" fill="#000" stroke="#000">−</text><text x="-50.99" y="322" font-size="10.4" fill="#000" stroke="#000" stroke-width="0.15">1</text><text x="-43.98" y="327.9" font-size="14.5" fill="#000" stroke="#000">)</text></g>
<g transform="rotate(-90)"><text x="-394.29" y="18.6" font-size="14.5" fill="#000" stroke="#000">Energy influx (J s</text><text x="-281.92" y="13.7" font-size="14.5" fill="#000" stroke="#000">−</text><text x="-273.19" y="12.7" font-size="10.4" fill="#000" stroke="#000" stroke-width="0.15">1</text><text x="-266.18" y="18.6" font-size="14.5" fill="#000" stroke="#000">)</text></g>
<g transform="rotate(-90)"><text x="-394.29" y="327.9" font-size="14.5" fill="#000" stroke="#000">Energy influx (J s</text><text x="-281.92" y="323" font-size="14.5" fill="#000" stroke="#000">−</text><text x="-273.19" y="322" font-size="10.4" fill="#000" stroke="#000" stroke-width="0.15">1</text><text x="-266.18" y="327.9" font-size="14.5" fill="#000" stroke="#000">)</text></g>
<g transform="rotate(-90)"><text x="-131.65" y="262.3" font-size="14.5" fill="#f00" font-style="italic" stroke="#f00">V</text><text x="-122.24" y="266.6" font-size="10" fill="#f00" stroke="#f00" stroke-width="0.15">bias</text><text x="-99.5" y="262.3" font-size="14.5" fill="#f00" stroke="#f00">(</text><text x="-94.86" y="262.3" font-size="14.5" fill="#f00" stroke="#f00">V</text><text x="-84.28" y="262.3" font-size="14.5" fill="#f00" stroke="#f00">)</text></g>
<g transform="rotate(-90)"><text x="-131.65" y="572.3" font-size="14.5" fill="#f00" font-style="italic" stroke="#f00">V</text><text x="-122.24" y="576.6" font-size="10" fill="#f00" stroke="#f00" stroke-width="0.15">bias</text><text x="-99.5" y="572.3" font-size="14.5" fill="#f00" stroke="#f00">(</text><text x="-94.86" y="572.3" font-size="14.5" fill="#f00" stroke="#f00">V</text><text x="-84.28" y="572.3" font-size="14.5" fill="#f00" stroke="#f00">)</text></g>
<g transform="rotate(-90)"><text x="-352.95" y="263.8" font-size="14.5" fill="#f00" font-style="italic" stroke="#f00">V</text><text x="-343.54" y="268.1" font-size="10" fill="#f00" stroke="#f00" stroke-width="0.15">bias</text><text x="-320.8" y="263.8" font-size="14.5" fill="#f00" stroke="#f00">(</text><text x="-316.16" y="263.8" font-size="14.5" fill="#f00" stroke="#f00">V</text><text x="-305.58" y="263.8" font-size="14.5" fill="#f00" stroke="#f00">)</text></g>
<g transform="rotate(-90)"><text x="-353.65" y="572.8" font-size="14.5" fill="#f00" font-style="italic" stroke="#f00">V</text><text x="-344.24" y="577.1" font-size="10" fill="#f00" stroke="#f00" stroke-width="0.15">bias</text><text x="-321.5" y="572.8" font-size="14.5" fill="#f00" stroke="#f00">(</text><text x="-316.86" y="572.8" font-size="14.5" fill="#f00" stroke="#f00">V</text><text x="-306.28" y="572.8" font-size="14.5" fill="#f00" stroke="#f00">)</text></g>
<g transform="rotate(-90)"><text x="-135.87" y="308.1" font-size="14.5" fill="#00f" font-style="italic" stroke="#00f">c</text><text x="-126" y="308.1" font-size="14.5" fill="#00f" stroke="#00f">(</text><text x="-121.16" y="308.1" font-size="14.5" fill="#00f" stroke="#00f">m</text><text x="-109.45" y="300.4" font-size="9" fill="#00f" stroke="#00f" stroke-width="0.15">2</text><text x="-103.3" y="308.1" font-size="14.5" fill="#00f" stroke="#00f">s</text><text x="-95.22" y="302.4" font-size="14.5" fill="#00f" stroke="#00f">−</text><text x="-87.28" y="301.6" font-size="10.2" fill="#00f" stroke="#00f" stroke-width="0.15">1</text><text x="-79.68" y="308.1" font-size="14.5" fill="#00f" stroke="#00f">)</text></g>
<g transform="rotate(-90)"><text x="-135.87" y="619" font-size="14.5" fill="#00f" font-style="italic" stroke="#00f">c</text><text x="-126" y="619" font-size="14.5" fill="#00f" stroke="#00f">(</text><text x="-121.16" y="619" font-size="14.5" fill="#00f" stroke="#00f">m</text><text x="-109.45" y="611.3" font-size="9" fill="#00f" stroke="#00f" stroke-width="0.15">2</text><text x="-103.3" y="619" font-size="14.5" fill="#00f" stroke="#00f">s</text><text x="-95.22" y="613.3" font-size="14.5" fill="#00f" stroke="#00f">−</text><text x="-87.28" y="612.5" font-size="10.2" fill="#00f" stroke="#00f" stroke-width="0.15">1</text><text x="-79.68" y="619" font-size="14.5" fill="#00f" stroke="#00f">)</text></g>
<g transform="rotate(-90)"><text x="-357.87" y="308.1" font-size="14.5" fill="#00f" font-style="italic" stroke="#00f">c</text><text x="-348" y="308.1" font-size="14.5" fill="#00f" stroke="#00f">(</text><text x="-343.16" y="308.1" font-size="14.5" fill="#00f" stroke="#00f">m</text><text x="-331.45" y="300.4" font-size="9" fill="#00f" stroke="#00f" stroke-width="0.15">2</text><text x="-325.3" y="308.1" font-size="14.5" fill="#00f" stroke="#00f">s</text><text x="-317.22" y="302.4" font-size="14.5" fill="#00f" stroke="#00f">−</text><text x="-309.28" y="301.6" font-size="10.2" fill="#00f" stroke="#00f" stroke-width="0.15">1</text><text x="-301.68" y="308.1" font-size="14.5" fill="#00f" stroke="#00f">)</text></g>
<g transform="rotate(-90)"><text x="-357.87" y="617" font-size="14.5" fill="#00f" font-style="italic" stroke="#00f">c</text><text x="-348" y="617" font-size="14.5" fill="#00f" stroke="#00f">(</text><text x="-343.16" y="617" font-size="14.5" fill="#00f" stroke="#00f">m</text><text x="-331.45" y="609.3" font-size="9" fill="#00f" stroke="#00f" stroke-width="0.15">2</text><text x="-325.3" y="617" font-size="14.5" fill="#00f" stroke="#00f">s</text><text x="-317.22" y="611.3" font-size="14.5" fill="#00f" stroke="#00f">−</text><text x="-309.28" y="610.5" font-size="10.2" fill="#00f" stroke="#00f" stroke-width="0.15">1</text><text x="-301.68" y="617" font-size="14.5" fill="#00f" stroke="#00f">)</text></g>
<text x="74.17" y="219" font-size="14.5" fill="#000" stroke="#000">Gas temperature (K)</text>
<text x="376.81" y="221.6" font-size="14.5" fill="#000" stroke="#000">Electron density (m</text>
<text x="501.88" y="216.6" font-size="14.5" fill="#000" stroke="#000">−</text>
<text x="510.21" y="216.1" font-size="10.2" fill="#000" stroke="#000" stroke-width="0.15">3</text>
<text x="517.12" y="221.6" font-size="14.5" fill="#000" stroke="#000">)</text>
<text x="55.91" y="441.8" font-size="14.5" fill="#000" stroke="#000">Electron temperature (eV)</text>
<text x="377.81" y="441.5" font-size="14.5" fill="#000" stroke="#000">Droplet diameter (μm)</text>
<text x="3.45" y="13.7" font-size="18.5" fill="#000" stroke="#000">(</text>
<text x="10.11" y="13.7" font-size="18.5" fill="#000" stroke="#000">a</text>
<text x="22.19" y="13.7" font-size="18.5" fill="#000" stroke="#000">)</text>
<text x="32.85" y="13.7" font-size="15" fill="#000" font-style="italic" stroke="#000">n</text>
<text x="40.68" y="17.6" font-size="10" fill="#000" stroke="#000" stroke-width="0.15">e</text>
<text x="46.77" y="13.7" font-size="15" fill="#000" stroke="#000">=4.3</text>
<text x="79.62" y="13.7" font-size="17" fill="#000" stroke="#000">×</text>
<text x="92.96" y="13.7" font-size="15" fill="#000" stroke="#000">10</text>
<text x="109.6" y="9.5" font-size="10" fill="#000" stroke="#000" stroke-width="0.15">20</text>
<text x="124.6" y="13.7" font-size="15" fill="#000" stroke="#000">m</text>
<text x="139.61" y="8.9" font-size="10" fill="#000" stroke="#000" stroke-width="0.15">−</text>
<text x="148.22" y="11.1" font-size="10" fill="#000" stroke="#000" stroke-width="0.15">3</text>
<text x="153.65" y="13.7" font-size="15" fill="#000" stroke="#000">,</text>
<text x="162.95" y="13.7" font-size="15" fill="#000" font-style="italic" stroke="#000">T</text>
<text x="171.68" y="17.6" font-size="10" fill="#000" stroke="#000" stroke-width="0.15">e</text>
<text x="177.87" y="13.7" font-size="15" fill="#000" stroke="#000">=1.1</text>
<text x="211.66" y="13.7" font-size="15" fill="#000" stroke="#000">eV</text>
<text x="312.85" y="13.4" font-size="18.5" fill="#000" stroke="#000">(</text>
<text x="319.71" y="13.4" font-size="18.5" fill="#000" stroke="#000">b</text>
<text x="330.99" y="13.4" font-size="18.5" fill="#000" stroke="#000">)</text>
<text x="342.65" y="13.4" font-size="15" fill="#000" font-style="italic" stroke="#000">T</text>
<text x="350.98" y="17.3" font-size="10" fill="#000" stroke="#000" stroke-width="0.15">g</text>
<text x="357.57" y="13.4" font-size="15" fill="#000" stroke="#000">=840</text>
<text x="393.67" y="13.4" font-size="15" fill="#000" stroke="#000">K</text>
<text x="405.55" y="13.4" font-size="15" fill="#000" stroke="#000">,</text>
<text x="415.15" y="13.4" font-size="15" fill="#000" font-style="italic" stroke="#000">T</text>
<text x="423.88" y="17.3" font-size="10" fill="#000" stroke="#000" stroke-width="0.15">e</text>
<text x="430.07" y="13.4" font-size="15" fill="#000" stroke="#000">=1.1</text>
<text x="463.86" y="13.4" font-size="15" fill="#000" stroke="#000">eV</text>
<text x="3.45" y="235.8" font-size="18.5" fill="#000" stroke="#000">(</text>
<text x="9.81" y="235.8" font-size="18.5" fill="#000" stroke="#000">c</text>
<text x="20.79" y="235.8" font-size="18.5" fill="#000" stroke="#000">)</text>
<text x="32.65" y="235.8" font-size="15" fill="#000" font-style="italic" stroke="#000">T</text>
<text x="40.98" y="239.7" font-size="10" fill="#000" stroke="#000" stroke-width="0.15">g</text>
<text x="47.57" y="235.8" font-size="15" fill="#000" stroke="#000">=840</text>
<text x="83.67" y="235.8" font-size="15" fill="#000" stroke="#000">K</text>
<text x="100.65" y="235.8" font-size="15" fill="#000" stroke="#000">,</text>
<text x="109.25" y="235.8" font-size="15" fill="#000" font-style="italic" stroke="#000">n</text>
<text x="117.08" y="239.7" font-size="10" fill="#000" stroke="#000" stroke-width="0.15">e</text>
<text x="123.17" y="235.8" font-size="15" fill="#000" stroke="#000">=4.3</text>
<text x="156.02" y="235.8" font-size="17" fill="#000" stroke="#000">×</text>
<text x="169.36" y="235.8" font-size="15" fill="#000" stroke="#000">10</text>
<text x="186" y="231.6" font-size="10" fill="#000" stroke="#000" stroke-width="0.15">20</text>
<text x="201" y="235.8" font-size="15" fill="#000" stroke="#000">m</text>
<text x="216.01" y="231" font-size="10" fill="#000" stroke="#000" stroke-width="0.15">−</text>
<text x="224.62" y="233.2" font-size="10" fill="#000" stroke="#000" stroke-width="0.15">3</text>
<text x="311.75" y="235.8" font-size="18.5" fill="#000" stroke="#000">(</text>
<text x="318.32" y="235.8" font-size="18.5" fill="#000" stroke="#000">d</text>
<text x="330.79" y="235.8" font-size="18.5" fill="#000" stroke="#000">)</text>
<text x="342.65" y="235.8" font-size="15" fill="#000" font-style="italic" stroke="#000">T</text>
<text x="350.98" y="239.7" font-size="10" fill="#000" stroke="#000" stroke-width="0.15">g</text>
<text x="357.57" y="235.8" font-size="15" fill="#000" stroke="#000">=840</text>
<text x="393.67" y="235.8" font-size="15" fill="#000" stroke="#000">K</text>
<text x="410.05" y="235.8" font-size="15" fill="#000" stroke="#000">,</text>
<text x="419.25" y="235.8" font-size="15" fill="#000" font-style="italic" stroke="#000">n</text>
<text x="427.08" y="239.7" font-size="10" fill="#000" stroke="#000" stroke-width="0.15">e</text>
<text x="433.17" y="235.8" font-size="15" fill="#000" stroke="#000">=4.3</text>
<text x="466.02" y="235.8" font-size="17" fill="#000" stroke="#000">×</text>
<text x="479.36" y="235.8" font-size="15" fill="#000" stroke="#000">10</text>
<text x="496" y="231.6" font-size="10" fill="#000" stroke="#000" stroke-width="0.15">20</text>
<text x="511" y="235.8" font-size="15" fill="#000" stroke="#000">m</text>
<text x="526.01" y="231" font-size="10" fill="#000" stroke="#000" stroke-width="0.15">−</text>
<text x="534.62" y="233.2" font-size="10" fill="#000" stroke="#000" stroke-width="0.15">3</text>
<text x="539.55" y="235.8" font-size="15" fill="#000" stroke="#000">,</text>
<text x="545.15" y="235.8" font-size="15" fill="#000" font-style="italic" stroke="#000">T</text>
<text x="553.88" y="239.7" font-size="10" fill="#000" stroke="#000" stroke-width="0.15">e</text>
<text x="560.07" y="235.8" font-size="15" fill="#000" stroke="#000">=1.1</text>
<text x="593.86" y="235.8" font-size="15" fill="#000" stroke="#000">eV</text>
<rect x="624.2" y="23.6" width="67.8" height="124.1" fill="#fff" stroke="#555" stroke-width="1"/>
<line x1="626" y1="33.5" x2="658.5" y2="33.5" stroke="#000" stroke-width="1.3" />
<text x="662.61" y="37.9" font-size="14" font-style="italic" stroke="#000">Q<tspan font-style="normal" font-size="9.8" dy="4.3">gas</tspan></text>
<line x1="626" y1="54.45" x2="658.5" y2="54.45" stroke="#ff0" stroke-width="1.3" />
<text x="662.61" y="58.85" font-size="14" font-style="italic" stroke="#000">Q<tspan font-style="normal" font-size="9.8" dy="4.3">ele</tspan></text>
<line x1="626" y1="75.4" x2="658.5" y2="75.4" stroke="#f0f" stroke-width="1.3" />
<text x="662.61" y="79.8" font-size="14" font-style="italic" stroke="#000">Q<tspan font-style="normal" font-size="9.8" dy="4.3">ion</tspan></text>
<line x1="626" y1="96.35" x2="658.5" y2="96.35" stroke="#0f0" stroke-width="1.3" />
<text x="662.61" y="100.75" font-size="14" font-style="italic" stroke="#000">Q<tspan font-style="normal" font-size="9.8" dy="4.3">rec</tspan></text>
<line x1="626" y1="117.3" x2="652.3" y2="117.3" stroke="#f00" stroke-width="1.3" stroke-dasharray="5.1 5.5"/>
<text x="662.09" y="121.7" font-size="14" font-style="italic" stroke="#000">V<tspan font-style="normal" font-size="9.8" dy="4.3">bias</tspan></text>
<line x1="626" y1="138.25" x2="658.5" y2="138.25" stroke="#00f" stroke-width="1.3" stroke-dasharray="5.8 3.2 1 3.3"/>
<text x="662.84" y="142.65" font-size="14" font-style="italic" stroke="#000">c<tspan font-style="normal" font-size="9.8" dy="4.3"></tspan></text>
</svg></body></html>
